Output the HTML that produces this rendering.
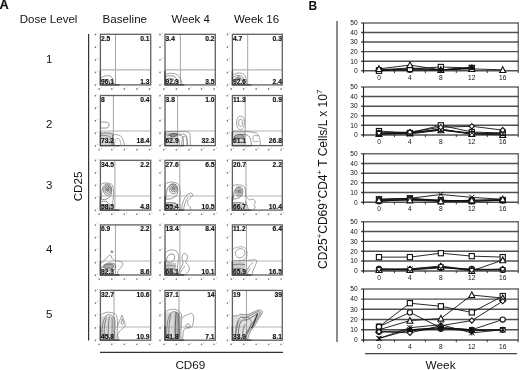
<!DOCTYPE html>
<html><head><meta charset="utf-8"><style>
html,body{margin:0;padding:0;background:#fff;width:520px;height:370px;overflow:hidden;}
svg{display:block;filter:blur(0.3px);}
</style></head><body>
<svg width="520" height="370" viewBox="0 0 520 370" font-family='"Liberation Sans", sans-serif'>
<rect x="0" y="0" width="520" height="370" fill="#fff"/>
<text x="-0.5" y="8.7" font-size="12.8" font-weight="bold" fill="#111" stroke="#111" stroke-width="0.15">A</text>
<text x="19.8" y="23.1" font-size="11.5" fill="#111">Dose Level</text>
<text x="102.6" y="23.3" font-size="11.6" fill="#111">Baseline</text>
<text x="171.4" y="23.3" font-size="11.4" fill="#111">Week 4</text>
<text x="233.9" y="23.3" font-size="11.5" fill="#111">Week 16</text>
<text x="49.1" y="62.6" font-size="11.5" fill="#111" text-anchor="middle">1</text>
<text x="49.1" y="128.4" font-size="11.5" fill="#111" text-anchor="middle">2</text>
<text x="49.1" y="189" font-size="11.5" fill="#111" text-anchor="middle">3</text>
<text x="49.1" y="252.6" font-size="11.5" fill="#111" text-anchor="middle">4</text>
<text x="49.1" y="318" font-size="11.5" fill="#111" text-anchor="middle">5</text>
<text transform="translate(82.2,201.3) rotate(-90)" font-size="11.6" fill="#111">CD25</text>
<line x1="88.6" y1="34" x2="88.6" y2="340.5" stroke="#333" stroke-width="1.2"/>
<line x1="100" y1="352.3" x2="283" y2="352.3" stroke="#333" stroke-width="1.2"/>
<text x="175.4" y="368.6" font-size="11.7" fill="#111">CD69</text>
<ellipse cx="95.40" cy="34.50" rx="0.8" ry="0.9" fill="#7c7c7c"/><circle cx="97.40" cy="33.10" r="0.55" fill="#b8b8b8"/>
<ellipse cx="99.20" cy="89.00" rx="0.8" ry="0.9" fill="#7c7c7c"/><circle cx="101.50" cy="87.70" r="0.55" fill="#b8b8b8"/>
<ellipse cx="95.40" cy="47.15" rx="0.8" ry="0.9" fill="#7c7c7c"/><circle cx="97.40" cy="45.75" r="0.55" fill="#b8b8b8"/>
<ellipse cx="111.78" cy="89.00" rx="0.8" ry="0.9" fill="#7c7c7c"/><circle cx="114.08" cy="87.70" r="0.55" fill="#b8b8b8"/>
<ellipse cx="95.40" cy="59.80" rx="0.8" ry="0.9" fill="#7c7c7c"/><circle cx="97.40" cy="58.40" r="0.55" fill="#b8b8b8"/>
<ellipse cx="124.35" cy="89.00" rx="0.8" ry="0.9" fill="#7c7c7c"/><circle cx="126.65" cy="87.70" r="0.55" fill="#b8b8b8"/>
<ellipse cx="95.40" cy="72.45" rx="0.8" ry="0.9" fill="#7c7c7c"/><circle cx="97.40" cy="71.05" r="0.55" fill="#b8b8b8"/>
<ellipse cx="136.93" cy="89.00" rx="0.8" ry="0.9" fill="#7c7c7c"/><circle cx="139.22" cy="87.70" r="0.55" fill="#b8b8b8"/>
<ellipse cx="95.40" cy="85.10" rx="0.8" ry="0.9" fill="#7c7c7c"/><circle cx="97.40" cy="83.70" r="0.55" fill="#b8b8b8"/>
<ellipse cx="149.50" cy="89.00" rx="0.8" ry="0.9" fill="#7c7c7c"/><circle cx="151.80" cy="87.70" r="0.55" fill="#b8b8b8"/>
<g transform="translate(100.4,34.3) scale(1.0060,1.0120)">
</g>
<line x1="115.5" y1="34.3" x2="115.5" y2="84.9" stroke="#8c8c8c" stroke-width="0.8"/>
<line x1="100.4" y1="69.9" x2="150.7" y2="69.9" stroke="#b4b4b4" stroke-width="1.1"/>
<g transform="translate(100.4,34.3) scale(1.0060,1.0120)">
<path d="M0,50 L0,44 C2,41 8,40 11,42 C13,44 13.5,48 13.5,50" fill="none" stroke="#7a7a7a" stroke-width="0.7"/>
<path d="M0.5,50 L0.5,46 C3,44 7,44 9,46 L9.5,50" fill="none" stroke="#626262" stroke-width="0.7"/>
</g>
<rect x="100.4" y="34.3" width="50.3" height="50.6" fill="none" stroke="#606060" stroke-width="1.3"/>
<path d="M100.4,70.73 L100.4,84.9 L119.51,84.9" fill="none" stroke="#444" stroke-width="1.3"/>
<g font-size="6.7" font-weight="bold" fill="#111" stroke="#111" stroke-width="0.15"><text x="101.0" y="40.75">2.5</text><text x="149.50" y="40.75" text-anchor="end">0.1</text><text x="101.0" y="83.50">96.1</text><text x="149.50" y="83.50" text-anchor="end">1.3</text></g>
<ellipse cx="160.00" cy="34.50" rx="0.8" ry="0.9" fill="#7c7c7c"/><circle cx="162.00" cy="33.10" r="0.55" fill="#b8b8b8"/>
<ellipse cx="163.80" cy="89.00" rx="0.8" ry="0.9" fill="#7c7c7c"/><circle cx="166.10" cy="87.70" r="0.55" fill="#b8b8b8"/>
<ellipse cx="160.00" cy="47.15" rx="0.8" ry="0.9" fill="#7c7c7c"/><circle cx="162.00" cy="45.75" r="0.55" fill="#b8b8b8"/>
<ellipse cx="176.38" cy="89.00" rx="0.8" ry="0.9" fill="#7c7c7c"/><circle cx="178.67" cy="87.70" r="0.55" fill="#b8b8b8"/>
<ellipse cx="160.00" cy="59.80" rx="0.8" ry="0.9" fill="#7c7c7c"/><circle cx="162.00" cy="58.40" r="0.55" fill="#b8b8b8"/>
<ellipse cx="188.95" cy="89.00" rx="0.8" ry="0.9" fill="#7c7c7c"/><circle cx="191.25" cy="87.70" r="0.55" fill="#b8b8b8"/>
<ellipse cx="160.00" cy="72.45" rx="0.8" ry="0.9" fill="#7c7c7c"/><circle cx="162.00" cy="71.05" r="0.55" fill="#b8b8b8"/>
<ellipse cx="201.53" cy="89.00" rx="0.8" ry="0.9" fill="#7c7c7c"/><circle cx="203.82" cy="87.70" r="0.55" fill="#b8b8b8"/>
<ellipse cx="160.00" cy="85.10" rx="0.8" ry="0.9" fill="#7c7c7c"/><circle cx="162.00" cy="83.70" r="0.55" fill="#b8b8b8"/>
<ellipse cx="214.10" cy="89.00" rx="0.8" ry="0.9" fill="#7c7c7c"/><circle cx="216.40" cy="87.70" r="0.55" fill="#b8b8b8"/>
<g transform="translate(165.0,34.3) scale(1.0060,1.0120)">
</g>
<line x1="180.4" y1="34.3" x2="180.4" y2="84.9" stroke="#8c8c8c" stroke-width="0.8"/>
<line x1="165.0" y1="69.9" x2="215.3" y2="69.9" stroke="#b4b4b4" stroke-width="1.1"/>
<g transform="translate(165.0,34.3) scale(1.0060,1.0120)">
<path d="M0,50 L0,40 C3,38 9,38 12,40 C15,42 17,46 17,50" fill="none" stroke="#7a7a7a" stroke-width="0.7"/>
<path d="M0.5,50 L0.5,42 C3,40.5 8,40.5 10,42 C12,44 13,47 13,50" fill="none" stroke="#626262" stroke-width="0.7"/>
<path d="M1,50 L1,45 C3,43 7,43 9,45 L10,50" fill="none" stroke="#626262" stroke-width="0.7"/>
</g>
<rect x="165.0" y="34.3" width="50.3" height="50.6" fill="none" stroke="#606060" stroke-width="1.3"/>
<path d="M165.0,70.73 L165.0,84.9 L184.11,84.9" fill="none" stroke="#444" stroke-width="1.3"/>
<g font-size="6.7" font-weight="bold" fill="#111" stroke="#111" stroke-width="0.15"><text x="165.6" y="40.75">3.4</text><text x="214.60" y="40.75" text-anchor="end">0.2</text><text x="165.6" y="83.50">92.9</text><text x="214.60" y="83.50" text-anchor="end">3.5</text></g>
<ellipse cx="227.40" cy="34.50" rx="0.8" ry="0.9" fill="#7c7c7c"/><circle cx="229.40" cy="33.10" r="0.55" fill="#b8b8b8"/>
<ellipse cx="231.20" cy="89.00" rx="0.8" ry="0.9" fill="#7c7c7c"/><circle cx="233.50" cy="87.70" r="0.55" fill="#b8b8b8"/>
<ellipse cx="227.40" cy="47.15" rx="0.8" ry="0.9" fill="#7c7c7c"/><circle cx="229.40" cy="45.75" r="0.55" fill="#b8b8b8"/>
<ellipse cx="243.68" cy="89.00" rx="0.8" ry="0.9" fill="#7c7c7c"/><circle cx="245.97" cy="87.70" r="0.55" fill="#b8b8b8"/>
<ellipse cx="227.40" cy="59.80" rx="0.8" ry="0.9" fill="#7c7c7c"/><circle cx="229.40" cy="58.40" r="0.55" fill="#b8b8b8"/>
<ellipse cx="256.15" cy="89.00" rx="0.8" ry="0.9" fill="#7c7c7c"/><circle cx="258.45" cy="87.70" r="0.55" fill="#b8b8b8"/>
<ellipse cx="227.40" cy="72.45" rx="0.8" ry="0.9" fill="#7c7c7c"/><circle cx="229.40" cy="71.05" r="0.55" fill="#b8b8b8"/>
<ellipse cx="268.62" cy="89.00" rx="0.8" ry="0.9" fill="#7c7c7c"/><circle cx="270.93" cy="87.70" r="0.55" fill="#b8b8b8"/>
<ellipse cx="227.40" cy="85.10" rx="0.8" ry="0.9" fill="#7c7c7c"/><circle cx="229.40" cy="83.70" r="0.55" fill="#b8b8b8"/>
<ellipse cx="281.10" cy="89.00" rx="0.8" ry="0.9" fill="#7c7c7c"/><circle cx="283.40" cy="87.70" r="0.55" fill="#b8b8b8"/>
<g transform="translate(232.4,34.3) scale(0.9980,1.0120)">
</g>
<line x1="247.7" y1="34.3" x2="247.7" y2="84.9" stroke="#8c8c8c" stroke-width="0.8"/>
<line x1="232.4" y1="69.9" x2="282.3" y2="69.9" stroke="#b4b4b4" stroke-width="1.1"/>
<g transform="translate(232.4,34.3) scale(0.9980,1.0120)">
<path d="M0,50 L0,41 C2,38 9,37 12,40 C14,43 14.5,47 14.5,50" fill="none" stroke="#7a7a7a" stroke-width="0.7"/>
<path d="M0.5,50 L0.5,43 C3,40 8,40 10,42 C12,45 12,48 12,50" fill="none" stroke="#626262" stroke-width="0.7"/>
<path d="M2,47 C2,44 4,42 6,42 C8,42 10,44 10,47" fill="none" stroke="#484848" stroke-width="0.7"/>
<path d="M4,45 C4,43.5 5,43 6,43 C7,43 8,43.5 8,45 Z" fill="#aaaaaa" stroke="#484848" stroke-width="0.6"/>
</g>
<rect x="232.4" y="34.3" width="49.9" height="50.6" fill="none" stroke="#606060" stroke-width="1.3"/>
<path d="M232.4,70.73 L232.4,84.9 L251.36,84.9" fill="none" stroke="#444" stroke-width="1.3"/>
<g font-size="6.7" font-weight="bold" fill="#111" stroke="#111" stroke-width="0.15"><text x="233.0" y="40.75">4.7</text><text x="281.90" y="40.75" text-anchor="end">0.3</text><text x="233.0" y="83.50">92.6</text><text x="281.90" y="83.50" text-anchor="end">2.4</text></g>
<ellipse cx="95.40" cy="95.70" rx="0.8" ry="0.9" fill="#7c7c7c"/><circle cx="97.40" cy="94.30" r="0.55" fill="#b8b8b8"/>
<ellipse cx="99.20" cy="149.70" rx="0.8" ry="0.9" fill="#7c7c7c"/><circle cx="101.50" cy="148.40" r="0.55" fill="#b8b8b8"/>
<ellipse cx="95.40" cy="108.23" rx="0.8" ry="0.9" fill="#7c7c7c"/><circle cx="97.40" cy="106.83" r="0.55" fill="#b8b8b8"/>
<ellipse cx="111.78" cy="149.70" rx="0.8" ry="0.9" fill="#7c7c7c"/><circle cx="114.08" cy="148.40" r="0.55" fill="#b8b8b8"/>
<ellipse cx="95.40" cy="120.75" rx="0.8" ry="0.9" fill="#7c7c7c"/><circle cx="97.40" cy="119.35" r="0.55" fill="#b8b8b8"/>
<ellipse cx="124.35" cy="149.70" rx="0.8" ry="0.9" fill="#7c7c7c"/><circle cx="126.65" cy="148.40" r="0.55" fill="#b8b8b8"/>
<ellipse cx="95.40" cy="133.27" rx="0.8" ry="0.9" fill="#7c7c7c"/><circle cx="97.40" cy="131.88" r="0.55" fill="#b8b8b8"/>
<ellipse cx="136.93" cy="149.70" rx="0.8" ry="0.9" fill="#7c7c7c"/><circle cx="139.22" cy="148.40" r="0.55" fill="#b8b8b8"/>
<ellipse cx="95.40" cy="145.80" rx="0.8" ry="0.9" fill="#7c7c7c"/><circle cx="97.40" cy="144.40" r="0.55" fill="#b8b8b8"/>
<ellipse cx="149.50" cy="149.70" rx="0.8" ry="0.9" fill="#7c7c7c"/><circle cx="151.80" cy="148.40" r="0.55" fill="#b8b8b8"/>
<g transform="translate(100.4,95.5) scale(1.0060,1.0020)">
<path d="M0,36.5 L13,36.5 L13,50 L0,50 Z" fill="#d4d4d4" stroke="none"/>
</g>
<line x1="113.4" y1="95.5" x2="113.4" y2="145.6" stroke="#8c8c8c" stroke-width="0.8"/>
<line x1="100.4" y1="131.0" x2="150.7" y2="131.0" stroke="#b4b4b4" stroke-width="1.1"/>
<g transform="translate(100.4,95.5) scale(1.0060,1.0020)">
<path d="M0,26.5 L5,26.5 C8,26.5 8.5,27.5 8.5,29.5 C8.5,31.5 8,32.5 5,32.5 L0,32.5" fill="none" stroke="#7a7a7a" stroke-width="0.8"/>
<path d="M0,38 C4,37 9,37 12,38.5 L13,50" fill="none" stroke="#626262" stroke-width="0.6"/>
<path d="M0,40 C4,39.5 8,40 10,42 L11,50" fill="none" stroke="#626262" stroke-width="0.6"/>
<path d="M12,50 L12,40 C15,38 20,39 22,43 C23,46 24,48 24,50" fill="none" stroke="#7a7a7a" stroke-width="0.7"/>
<path d="M14,50 C14,44 16,42 18,43 C20,45 20.5,48 20.5,50" fill="none" stroke="#7a7a7a" stroke-width="0.6"/>
</g>
<rect x="100.4" y="95.5" width="50.3" height="50.1" fill="none" stroke="#606060" stroke-width="1.3"/>
<path d="M100.4,131.57 L100.4,145.6 L119.51,145.6" fill="none" stroke="#444" stroke-width="1.3"/>
<g font-size="6.7" font-weight="bold" fill="#111" stroke="#111" stroke-width="0.15"><text x="101.0" y="101.95">8</text><text x="149.50" y="101.95" text-anchor="end">0.4</text><text x="101.0" y="143.00">73.2</text><text x="149.50" y="143.00" text-anchor="end">18.4</text></g>
<ellipse cx="160.00" cy="95.70" rx="0.8" ry="0.9" fill="#7c7c7c"/><circle cx="162.00" cy="94.30" r="0.55" fill="#b8b8b8"/>
<ellipse cx="163.80" cy="149.70" rx="0.8" ry="0.9" fill="#7c7c7c"/><circle cx="166.10" cy="148.40" r="0.55" fill="#b8b8b8"/>
<ellipse cx="160.00" cy="108.23" rx="0.8" ry="0.9" fill="#7c7c7c"/><circle cx="162.00" cy="106.83" r="0.55" fill="#b8b8b8"/>
<ellipse cx="176.38" cy="149.70" rx="0.8" ry="0.9" fill="#7c7c7c"/><circle cx="178.67" cy="148.40" r="0.55" fill="#b8b8b8"/>
<ellipse cx="160.00" cy="120.75" rx="0.8" ry="0.9" fill="#7c7c7c"/><circle cx="162.00" cy="119.35" r="0.55" fill="#b8b8b8"/>
<ellipse cx="188.95" cy="149.70" rx="0.8" ry="0.9" fill="#7c7c7c"/><circle cx="191.25" cy="148.40" r="0.55" fill="#b8b8b8"/>
<ellipse cx="160.00" cy="133.27" rx="0.8" ry="0.9" fill="#7c7c7c"/><circle cx="162.00" cy="131.88" r="0.55" fill="#b8b8b8"/>
<ellipse cx="201.53" cy="149.70" rx="0.8" ry="0.9" fill="#7c7c7c"/><circle cx="203.82" cy="148.40" r="0.55" fill="#b8b8b8"/>
<ellipse cx="160.00" cy="145.80" rx="0.8" ry="0.9" fill="#7c7c7c"/><circle cx="162.00" cy="144.40" r="0.55" fill="#b8b8b8"/>
<ellipse cx="214.10" cy="149.70" rx="0.8" ry="0.9" fill="#7c7c7c"/><circle cx="216.40" cy="148.40" r="0.55" fill="#b8b8b8"/>
<g transform="translate(165.0,95.5) scale(1.0060,1.0020)">
<path d="M0,36 L13,36 L13,50 L0,50 Z" fill="#dcdcdc" stroke="none"/>
</g>
<line x1="177.6" y1="95.5" x2="177.6" y2="145.6" stroke="#8c8c8c" stroke-width="0.8"/>
<line x1="165.0" y1="131.0" x2="215.3" y2="131.0" stroke="#b4b4b4" stroke-width="1.1"/>
<g transform="translate(165.0,95.5) scale(1.0060,1.0020)">
<path d="M0,36 L21,36 C23.5,36 25,37.5 25,40 L25.2,50" fill="none" stroke="#7a7a7a" stroke-width="0.7"/>
<path d="M0.5,38.5 L18,38.5 C20.5,38.5 21.5,40 21.7,42.5 L22,50" fill="none" stroke="#7a7a7a" stroke-width="0.7"/>
<path d="M2,40.5 C4,38.8 8,38.5 12,39 C15,39.5 17.5,40 18,42.5 C18.3,45 18.3,48 18.3,50" fill="none" stroke="#626262" stroke-width="0.7"/>
<path d="M4.5,39.5 C5.5,37.8 10,37.6 12,38.6 C13,39.6 11,40.8 8.5,40.9 C6,41 4,40.6 4.5,39.5 Z" fill="#8e8e8e" stroke="#484848" stroke-width="0.7"/>
<path d="M16.6,50 C16.6,44 17.5,40.5 19.5,40.5 C21.5,40.5 22.3,44 22.3,50" fill="none" stroke="#626262" stroke-width="0.6"/>
<path d="M1,43 C5,42 10,42 14,44 L14.5,50" fill="none" stroke="#626262" stroke-width="0.6"/>
</g>
<rect x="165.0" y="95.5" width="50.3" height="50.1" fill="none" stroke="#606060" stroke-width="1.3"/>
<path d="M165.0,131.57 L165.0,145.6 L184.11,145.6" fill="none" stroke="#444" stroke-width="1.3"/>
<g font-size="6.7" font-weight="bold" fill="#111" stroke="#111" stroke-width="0.15"><text x="165.6" y="101.95">3.8</text><text x="214.60" y="101.95" text-anchor="end">1.0</text><text x="165.6" y="143.00">62.9</text><text x="214.60" y="143.00" text-anchor="end">32.3</text></g>
<ellipse cx="227.40" cy="95.70" rx="0.8" ry="0.9" fill="#7c7c7c"/><circle cx="229.40" cy="94.30" r="0.55" fill="#b8b8b8"/>
<ellipse cx="231.20" cy="149.70" rx="0.8" ry="0.9" fill="#7c7c7c"/><circle cx="233.50" cy="148.40" r="0.55" fill="#b8b8b8"/>
<ellipse cx="227.40" cy="108.23" rx="0.8" ry="0.9" fill="#7c7c7c"/><circle cx="229.40" cy="106.83" r="0.55" fill="#b8b8b8"/>
<ellipse cx="243.68" cy="149.70" rx="0.8" ry="0.9" fill="#7c7c7c"/><circle cx="245.97" cy="148.40" r="0.55" fill="#b8b8b8"/>
<ellipse cx="227.40" cy="120.75" rx="0.8" ry="0.9" fill="#7c7c7c"/><circle cx="229.40" cy="119.35" r="0.55" fill="#b8b8b8"/>
<ellipse cx="256.15" cy="149.70" rx="0.8" ry="0.9" fill="#7c7c7c"/><circle cx="258.45" cy="148.40" r="0.55" fill="#b8b8b8"/>
<ellipse cx="227.40" cy="133.27" rx="0.8" ry="0.9" fill="#7c7c7c"/><circle cx="229.40" cy="131.88" r="0.55" fill="#b8b8b8"/>
<ellipse cx="268.62" cy="149.70" rx="0.8" ry="0.9" fill="#7c7c7c"/><circle cx="270.93" cy="148.40" r="0.55" fill="#b8b8b8"/>
<ellipse cx="227.40" cy="145.80" rx="0.8" ry="0.9" fill="#7c7c7c"/><circle cx="229.40" cy="144.40" r="0.55" fill="#b8b8b8"/>
<ellipse cx="281.10" cy="149.70" rx="0.8" ry="0.9" fill="#7c7c7c"/><circle cx="283.40" cy="148.40" r="0.55" fill="#b8b8b8"/>
<g transform="translate(232.4,95.5) scale(0.9980,1.0020)">
<path d="M0,35.5 L13,35.5 L13,50 L0,50 Z" fill="#dadada" stroke="none"/>
</g>
<line x1="245.2" y1="95.5" x2="245.2" y2="145.6" stroke="#8c8c8c" stroke-width="0.8"/>
<line x1="232.4" y1="131.0" x2="282.3" y2="131.0" stroke="#b4b4b4" stroke-width="1.1"/>
<g transform="translate(232.4,95.5) scale(0.9980,1.0020)">
<path d="M4.2,27.5 C4.2,23 6,20.5 8.2,20.5 C10.5,20.5 12,23 12,27 C12,31 10.5,34 8.2,34 C6,34 4.2,31.5 4.2,27.5 Z" fill="none" stroke="#7a7a7a" stroke-width="0.7"/>
<path d="M6.2,27.5 C6.2,25 7,23.6 8.2,23.6 C9.4,23.6 10.1,25 10.1,27.3 C10.1,29.6 9.3,31 8.2,31 C7,31 6.2,29.8 6.2,27.5 Z" fill="none" stroke="#626262" stroke-width="0.6"/>
<path d="M0,50 L0,36 C8,35 18,36 24,37.5 C27,39 28,45 28,50" fill="none" stroke="#7a7a7a" stroke-width="0.7"/>
<path d="M0,45 C3,39 10,38 15,39.5 C18,41 19,46 19,50" fill="none" stroke="#626262" stroke-width="0.7"/>
<path d="M2,41 C4,38.5 9,38.5 11,40 C12.5,41.5 10,43 7,43 C4,43 2,42.5 2,41 Z" fill="#a4a4a4" stroke="#484848" stroke-width="0.7"/>
<path d="M26,40 L22,40 C20,40 20,46 22,46 L26,46" fill="none" stroke="#7a7a7a" stroke-width="0.6"/>
</g>
<rect x="232.4" y="95.5" width="49.9" height="50.1" fill="none" stroke="#606060" stroke-width="1.3"/>
<path d="M232.4,131.57 L232.4,145.6 L251.36,145.6" fill="none" stroke="#444" stroke-width="1.3"/>
<g font-size="6.7" font-weight="bold" fill="#111" stroke="#111" stroke-width="0.15"><text x="233.0" y="101.95">11.3</text><text x="281.90" y="101.95" text-anchor="end">0.9</text><text x="233.0" y="143.00">61.1</text><text x="281.90" y="143.00" text-anchor="end">26.8</text></g>
<ellipse cx="95.40" cy="160.50" rx="0.8" ry="0.9" fill="#7c7c7c"/><circle cx="97.40" cy="159.10" r="0.55" fill="#b8b8b8"/>
<ellipse cx="99.20" cy="214.20" rx="0.8" ry="0.9" fill="#7c7c7c"/><circle cx="101.50" cy="212.90" r="0.55" fill="#b8b8b8"/>
<ellipse cx="95.40" cy="172.95" rx="0.8" ry="0.9" fill="#7c7c7c"/><circle cx="97.40" cy="171.55" r="0.55" fill="#b8b8b8"/>
<ellipse cx="111.78" cy="214.20" rx="0.8" ry="0.9" fill="#7c7c7c"/><circle cx="114.08" cy="212.90" r="0.55" fill="#b8b8b8"/>
<ellipse cx="95.40" cy="185.40" rx="0.8" ry="0.9" fill="#7c7c7c"/><circle cx="97.40" cy="184.00" r="0.55" fill="#b8b8b8"/>
<ellipse cx="124.35" cy="214.20" rx="0.8" ry="0.9" fill="#7c7c7c"/><circle cx="126.65" cy="212.90" r="0.55" fill="#b8b8b8"/>
<ellipse cx="95.40" cy="197.85" rx="0.8" ry="0.9" fill="#7c7c7c"/><circle cx="97.40" cy="196.45" r="0.55" fill="#b8b8b8"/>
<ellipse cx="136.93" cy="214.20" rx="0.8" ry="0.9" fill="#7c7c7c"/><circle cx="139.22" cy="212.90" r="0.55" fill="#b8b8b8"/>
<ellipse cx="95.40" cy="210.30" rx="0.8" ry="0.9" fill="#7c7c7c"/><circle cx="97.40" cy="208.90" r="0.55" fill="#b8b8b8"/>
<ellipse cx="149.50" cy="214.20" rx="0.8" ry="0.9" fill="#7c7c7c"/><circle cx="151.80" cy="212.90" r="0.55" fill="#b8b8b8"/>
<g transform="translate(100.4,160.3) scale(1.0060,0.9960)">
<path d="M0,44 L9,44 L9,50 L0,50 Z" fill="#d2d2d2" stroke="none"/>
</g>
<line x1="114.9" y1="160.3" x2="114.9" y2="210.10000000000002" stroke="#8c8c8c" stroke-width="0.8"/>
<line x1="100.4" y1="196.0" x2="150.7" y2="196.0" stroke="#b4b4b4" stroke-width="1.1"/>
<g transform="translate(100.4,160.3) scale(1.0060,0.9960)">
<path d="M0,50 L0,25 C2,22 10,22 12,25 C13.5,28 13,35 12.5,40 C12,45 12.5,48 12.5,50" fill="none" stroke="#7a7a7a" stroke-width="0.7"/>
<path d="M1,39 C1,29 2.5,23.8 7,23.8 C11.2,23.8 11.8,30 10.8,34 C9.8,38 5,40.5 1,39 Z" fill="none" stroke="#626262" stroke-width="0.7"/>
<path d="M3.10,30.00 a3.9,5.2 0 1,0 7.80,0 a3.9,5.2 0 1,0 -7.80,0 Z" fill="none" stroke="#626262" stroke-width="0.7"/>
<path d="M4.50,29.60 a2.7,3.7 0 1,0 5.40,0 a2.7,3.7 0 1,0 -5.40,0 Z" fill="none" stroke="#484848" stroke-width="0.7"/>
<path d="M5.90,29.30 a1.4,2.1 0 1,0 2.80,0 a1.4,2.1 0 1,0 -2.80,0 Z" fill="#9a9a9a" stroke="#484848" stroke-width="0.6"/>
<path d="M0,50 L0,42 C3,40 8,41 9,45 L9.5,50" fill="none" stroke="#626262" stroke-width="0.7"/>
<path d="M1,50 C1,46 4,44 7,46 L7.5,50" fill="none" stroke="#626262" stroke-width="0.6"/>
</g>
<rect x="100.4" y="160.3" width="50.3" height="49.8" fill="none" stroke="#606060" stroke-width="1.3"/>
<path d="M100.4,196.16 L100.4,210.10000000000002 L119.51,210.10000000000002" fill="none" stroke="#444" stroke-width="1.3"/>
<g font-size="6.7" font-weight="bold" fill="#111" stroke="#111" stroke-width="0.15"><text x="101.0" y="166.75">34.5</text><text x="149.50" y="166.75" text-anchor="end">2.2</text><text x="101.0" y="208.70">58.5</text><text x="149.50" y="208.70" text-anchor="end">4.8</text></g>
<ellipse cx="160.00" cy="160.50" rx="0.8" ry="0.9" fill="#7c7c7c"/><circle cx="162.00" cy="159.10" r="0.55" fill="#b8b8b8"/>
<ellipse cx="163.80" cy="214.20" rx="0.8" ry="0.9" fill="#7c7c7c"/><circle cx="166.10" cy="212.90" r="0.55" fill="#b8b8b8"/>
<ellipse cx="160.00" cy="172.95" rx="0.8" ry="0.9" fill="#7c7c7c"/><circle cx="162.00" cy="171.55" r="0.55" fill="#b8b8b8"/>
<ellipse cx="176.38" cy="214.20" rx="0.8" ry="0.9" fill="#7c7c7c"/><circle cx="178.67" cy="212.90" r="0.55" fill="#b8b8b8"/>
<ellipse cx="160.00" cy="185.40" rx="0.8" ry="0.9" fill="#7c7c7c"/><circle cx="162.00" cy="184.00" r="0.55" fill="#b8b8b8"/>
<ellipse cx="188.95" cy="214.20" rx="0.8" ry="0.9" fill="#7c7c7c"/><circle cx="191.25" cy="212.90" r="0.55" fill="#b8b8b8"/>
<ellipse cx="160.00" cy="197.85" rx="0.8" ry="0.9" fill="#7c7c7c"/><circle cx="162.00" cy="196.45" r="0.55" fill="#b8b8b8"/>
<ellipse cx="201.53" cy="214.20" rx="0.8" ry="0.9" fill="#7c7c7c"/><circle cx="203.82" cy="212.90" r="0.55" fill="#b8b8b8"/>
<ellipse cx="160.00" cy="210.30" rx="0.8" ry="0.9" fill="#7c7c7c"/><circle cx="162.00" cy="208.90" r="0.55" fill="#b8b8b8"/>
<ellipse cx="214.10" cy="214.20" rx="0.8" ry="0.9" fill="#7c7c7c"/><circle cx="216.40" cy="212.90" r="0.55" fill="#b8b8b8"/>
<g transform="translate(165.0,160.3) scale(1.0060,0.9960)">
<path d="M0,42 L11,42 L11,50 L0,50 Z" fill="#cfcfcf" stroke="none"/>
</g>
<line x1="179.8" y1="160.3" x2="179.8" y2="210.10000000000002" stroke="#8c8c8c" stroke-width="0.8"/>
<line x1="165.0" y1="196.0" x2="215.3" y2="196.0" stroke="#b4b4b4" stroke-width="1.1"/>
<g transform="translate(165.0,160.3) scale(1.0060,0.9960)">
<path d="M0,50 L0,24 C3,21 12,21 14,25 C15.5,29 15,35 14.8,40 C14.6,44 15,48 15.2,50" fill="none" stroke="#7a7a7a" stroke-width="0.7"/>
<path d="M1,39 C1,29 3,24 8,23.6 C12.8,23.8 13.2,29 12.3,33 C11.3,37 6,39.5 1,39 Z" fill="none" stroke="#626262" stroke-width="0.7"/>
<path d="M4.30,28.80 a4.0,4.8 0 1,0 8.00,0 a4.0,4.8 0 1,0 -8.00,0 Z" fill="none" stroke="#626262" stroke-width="0.7"/>
<path d="M5.80,28.40 a2.7,3.3 0 1,0 5.40,0 a2.7,3.3 0 1,0 -5.40,0 Z" fill="none" stroke="#484848" stroke-width="0.7"/>
<path d="M7.20,28.20 a1.4,1.8 0 1,0 2.80,0 a1.4,1.8 0 1,0 -2.80,0 Z" fill="#9a9a9a" stroke="#484848" stroke-width="0.6"/>
<path d="M0,43 C3,42 8,42 12,44" fill="none" stroke="#626262" stroke-width="0.6"/>
<path d="M0,46 C3,45 8,45 11,47" fill="none" stroke="#484848" stroke-width="0.6"/>
<path d="M16.4,49.5 C17,44 18.5,38 22,34.5 C24,33 27,32.3 27.5,34 C27.8,36 25,38 23.5,39.5 C21.5,41.5 22,45 25.5,47.2 C26,48 25.5,49 24.5,49.5" fill="none" stroke="#7a7a7a" stroke-width="0.7"/>
<path d="M18.5,49.5 C19,45 20.5,40 23,37" fill="none" stroke="#626262" stroke-width="0.6"/>
</g>
<rect x="165.0" y="160.3" width="50.3" height="49.8" fill="none" stroke="#606060" stroke-width="1.3"/>
<path d="M165.0,196.16 L165.0,210.10000000000002 L184.11,210.10000000000002" fill="none" stroke="#444" stroke-width="1.3"/>
<g font-size="6.7" font-weight="bold" fill="#111" stroke="#111" stroke-width="0.15"><text x="165.6" y="166.75">27.6</text><text x="214.60" y="166.75" text-anchor="end">6.5</text><text x="165.6" y="208.70">55.4</text><text x="214.60" y="208.70" text-anchor="end">10.5</text></g>
<ellipse cx="227.40" cy="160.50" rx="0.8" ry="0.9" fill="#7c7c7c"/><circle cx="229.40" cy="159.10" r="0.55" fill="#b8b8b8"/>
<ellipse cx="231.20" cy="214.20" rx="0.8" ry="0.9" fill="#7c7c7c"/><circle cx="233.50" cy="212.90" r="0.55" fill="#b8b8b8"/>
<ellipse cx="227.40" cy="172.95" rx="0.8" ry="0.9" fill="#7c7c7c"/><circle cx="229.40" cy="171.55" r="0.55" fill="#b8b8b8"/>
<ellipse cx="243.68" cy="214.20" rx="0.8" ry="0.9" fill="#7c7c7c"/><circle cx="245.97" cy="212.90" r="0.55" fill="#b8b8b8"/>
<ellipse cx="227.40" cy="185.40" rx="0.8" ry="0.9" fill="#7c7c7c"/><circle cx="229.40" cy="184.00" r="0.55" fill="#b8b8b8"/>
<ellipse cx="256.15" cy="214.20" rx="0.8" ry="0.9" fill="#7c7c7c"/><circle cx="258.45" cy="212.90" r="0.55" fill="#b8b8b8"/>
<ellipse cx="227.40" cy="197.85" rx="0.8" ry="0.9" fill="#7c7c7c"/><circle cx="229.40" cy="196.45" r="0.55" fill="#b8b8b8"/>
<ellipse cx="268.62" cy="214.20" rx="0.8" ry="0.9" fill="#7c7c7c"/><circle cx="270.93" cy="212.90" r="0.55" fill="#b8b8b8"/>
<ellipse cx="227.40" cy="210.30" rx="0.8" ry="0.9" fill="#7c7c7c"/><circle cx="229.40" cy="208.90" r="0.55" fill="#b8b8b8"/>
<ellipse cx="281.10" cy="214.20" rx="0.8" ry="0.9" fill="#7c7c7c"/><circle cx="283.40" cy="212.90" r="0.55" fill="#b8b8b8"/>
<g transform="translate(232.4,160.3) scale(0.9980,0.9960)">
<path d="M0,42 L12,42 L12,50 L0,50 Z" fill="#d0d0d0" stroke="none"/>
</g>
<line x1="246.0" y1="160.3" x2="246.0" y2="210.10000000000002" stroke="#8c8c8c" stroke-width="0.8"/>
<line x1="232.4" y1="196.0" x2="282.3" y2="196.0" stroke="#b4b4b4" stroke-width="1.1"/>
<g transform="translate(232.4,160.3) scale(0.9980,0.9960)">
<path d="M0,50 L0,26 C2,24.5 5,24.3 7,24.6 C10,25 12.5,26 12.8,28.7 C13.2,31 13.2,34 13.2,36 C14.5,37.5 16,39 17,39.7 C18.5,39.5 20,38.8 21,39.3 C22,40 23,41 23.3,42 C23,43 22,44 21.5,44.3 C22,45.5 23,46.5 22.9,47.5 C22.5,48.5 21.5,49 20.6,49.5" fill="none" stroke="#7a7a7a" stroke-width="0.7"/>
<path d="M1,39 C1,31 3,26.5 7,26.5 C10.5,26.5 11,31 10,34 C9,37 5,39 1,39 Z" fill="none" stroke="#626262" stroke-width="0.7"/>
<path d="M2.80,31.50 a3.4,4.2 0 1,0 6.80,0 a3.4,4.2 0 1,0 -6.80,0 Z" fill="none" stroke="#626262" stroke-width="0.7"/>
<path d="M4.10,31.30 a2.2,2.8 0 1,0 4.40,0 a2.2,2.8 0 1,0 -4.40,0 Z" fill="none" stroke="#484848" stroke-width="0.7"/>
<path d="M5.30,31.20 a1.1,1.5 0 1,0 2.20,0 a1.1,1.5 0 1,0 -2.20,0 Z" fill="#9a9a9a" stroke="#484848" stroke-width="0.6"/>
<path d="M13,41 C14.5,44 15.5,47 16,49.5" fill="none" stroke="#626262" stroke-width="0.6"/>
<path d="M0,43 C4,42 9,42 12,44" fill="none" stroke="#626262" stroke-width="0.6"/>
</g>
<rect x="232.4" y="160.3" width="49.9" height="49.8" fill="none" stroke="#606060" stroke-width="1.3"/>
<path d="M232.4,196.16 L232.4,210.10000000000002 L251.36,210.10000000000002" fill="none" stroke="#444" stroke-width="1.3"/>
<g font-size="6.7" font-weight="bold" fill="#111" stroke="#111" stroke-width="0.15"><text x="233.0" y="166.75">20.7</text><text x="281.90" y="166.75" text-anchor="end">2.2</text><text x="233.0" y="208.70">66.7</text><text x="281.90" y="208.70" text-anchor="end">10.4</text></g>
<ellipse cx="95.40" cy="225.10" rx="0.8" ry="0.9" fill="#7c7c7c"/><circle cx="97.40" cy="223.70" r="0.55" fill="#b8b8b8"/>
<ellipse cx="99.20" cy="279.10" rx="0.8" ry="0.9" fill="#7c7c7c"/><circle cx="101.50" cy="277.80" r="0.55" fill="#b8b8b8"/>
<ellipse cx="95.40" cy="237.62" rx="0.8" ry="0.9" fill="#7c7c7c"/><circle cx="97.40" cy="236.23" r="0.55" fill="#b8b8b8"/>
<ellipse cx="111.78" cy="279.10" rx="0.8" ry="0.9" fill="#7c7c7c"/><circle cx="114.08" cy="277.80" r="0.55" fill="#b8b8b8"/>
<ellipse cx="95.40" cy="250.15" rx="0.8" ry="0.9" fill="#7c7c7c"/><circle cx="97.40" cy="248.75" r="0.55" fill="#b8b8b8"/>
<ellipse cx="124.35" cy="279.10" rx="0.8" ry="0.9" fill="#7c7c7c"/><circle cx="126.65" cy="277.80" r="0.55" fill="#b8b8b8"/>
<ellipse cx="95.40" cy="262.68" rx="0.8" ry="0.9" fill="#7c7c7c"/><circle cx="97.40" cy="261.28" r="0.55" fill="#b8b8b8"/>
<ellipse cx="136.93" cy="279.10" rx="0.8" ry="0.9" fill="#7c7c7c"/><circle cx="139.22" cy="277.80" r="0.55" fill="#b8b8b8"/>
<ellipse cx="95.40" cy="275.20" rx="0.8" ry="0.9" fill="#7c7c7c"/><circle cx="97.40" cy="273.80" r="0.55" fill="#b8b8b8"/>
<ellipse cx="149.50" cy="279.10" rx="0.8" ry="0.9" fill="#7c7c7c"/><circle cx="151.80" cy="277.80" r="0.55" fill="#b8b8b8"/>
<g transform="translate(100.4,224.9) scale(1.0060,1.0020)">
</g>
<line x1="115.4" y1="224.9" x2="115.4" y2="275.0" stroke="#8c8c8c" stroke-width="0.8"/>
<line x1="100.4" y1="261.0" x2="150.7" y2="261.0" stroke="#b4b4b4" stroke-width="1.1"/>
<g transform="translate(100.4,224.9) scale(1.0060,1.0020)">
<path d="M0,50 L0,38.5 C3,37 6,33 8.5,30.5 C9.5,29.5 10.5,30 11,32 C11.5,34 13,35.5 16,36 C19,36.2 21.5,36.5 22.2,38 C22.8,40 21,42.5 19,44 C17.5,45.5 16.8,47 17.3,50" fill="none" stroke="#7a7a7a" stroke-width="0.7"/>
<path d="M0.5,46 C0.5,41 5,38 9.5,38 C14,38 16,40 15,43 C14,46 8,46.5 0.5,46 Z" fill="none" stroke="#626262" stroke-width="0.7"/>
<path d="M3,42.5 C3,40 6.5,39 9.5,39 C13,39 14,40.5 13,42.5 C12,44 6,44.5 3,42.5 Z" fill="#a8a8a8" stroke="#484848" stroke-width="0.7"/>
<path d="M11.4,26.8 m-0.9,0 a0.9,0.9 0 1,0 1.8,0 a0.9,0.9 0 1,0 -1.8,0" fill="#bbbbbb" stroke="#626262" stroke-width="0.7"/>
</g>
<rect x="100.4" y="224.9" width="50.3" height="50.1" fill="none" stroke="#606060" stroke-width="1.3"/>
<path d="M100.4,260.97 L100.4,275.0 L119.51,275.0" fill="none" stroke="#444" stroke-width="1.3"/>
<g font-size="6.7" font-weight="bold" fill="#111" stroke="#111" stroke-width="0.15"><text x="101.0" y="231.35">6.9</text><text x="149.50" y="231.35" text-anchor="end">2.2</text><text x="101.0" y="273.60">82.3</text><text x="149.50" y="273.60" text-anchor="end">8.6</text></g>
<ellipse cx="160.00" cy="225.10" rx="0.8" ry="0.9" fill="#7c7c7c"/><circle cx="162.00" cy="223.70" r="0.55" fill="#b8b8b8"/>
<ellipse cx="163.80" cy="279.10" rx="0.8" ry="0.9" fill="#7c7c7c"/><circle cx="166.10" cy="277.80" r="0.55" fill="#b8b8b8"/>
<ellipse cx="160.00" cy="237.62" rx="0.8" ry="0.9" fill="#7c7c7c"/><circle cx="162.00" cy="236.23" r="0.55" fill="#b8b8b8"/>
<ellipse cx="176.38" cy="279.10" rx="0.8" ry="0.9" fill="#7c7c7c"/><circle cx="178.67" cy="277.80" r="0.55" fill="#b8b8b8"/>
<ellipse cx="160.00" cy="250.15" rx="0.8" ry="0.9" fill="#7c7c7c"/><circle cx="162.00" cy="248.75" r="0.55" fill="#b8b8b8"/>
<ellipse cx="188.95" cy="279.10" rx="0.8" ry="0.9" fill="#7c7c7c"/><circle cx="191.25" cy="277.80" r="0.55" fill="#b8b8b8"/>
<ellipse cx="160.00" cy="262.68" rx="0.8" ry="0.9" fill="#7c7c7c"/><circle cx="162.00" cy="261.28" r="0.55" fill="#b8b8b8"/>
<ellipse cx="201.53" cy="279.10" rx="0.8" ry="0.9" fill="#7c7c7c"/><circle cx="203.82" cy="277.80" r="0.55" fill="#b8b8b8"/>
<ellipse cx="160.00" cy="275.20" rx="0.8" ry="0.9" fill="#7c7c7c"/><circle cx="162.00" cy="273.80" r="0.55" fill="#b8b8b8"/>
<ellipse cx="214.10" cy="279.10" rx="0.8" ry="0.9" fill="#7c7c7c"/><circle cx="216.40" cy="277.80" r="0.55" fill="#b8b8b8"/>
<g transform="translate(165.0,224.9) scale(1.0060,1.0020)">
<path d="M0,38 L11,38 L11,50 L0,50 Z" fill="#cacaca" stroke="none"/>
</g>
<line x1="179.9" y1="224.9" x2="179.9" y2="275.0" stroke="#8c8c8c" stroke-width="0.8"/>
<line x1="165.0" y1="261.0" x2="215.3" y2="261.0" stroke="#b4b4b4" stroke-width="1.1"/>
<g transform="translate(165.0,224.9) scale(1.0060,1.0020)">
<path d="M0,50 L0,28 C2,25 8,24 11,26 C14,28 14,33 13,37 C12,40 13,45 12,50" fill="none" stroke="#7a7a7a" stroke-width="0.7"/>
<path d="M1.5,37 C1.5,31 4,29 7,29 C10,29 10,33 9,35 C8,37 5,38 1.5,37 Z" fill="none" stroke="#626262" stroke-width="0.7"/>
<path d="M0,41 C3,40 8,40 11,41.5" fill="none" stroke="#626262" stroke-width="0.6"/>
<path d="M0,44 C3,43 8,43 11,45" fill="none" stroke="#484848" stroke-width="0.6"/>
<path d="M12,50 C14,45 17,42 18,38 C17,35 16.5,32 17.5,30 C18.5,28 21,28 22,30 C23,32 22,35 20,37 C23,40 25,42 24,45 C23,48 20,50 18,50" fill="none" stroke="#7a7a7a" stroke-width="0.7"/>
<path d="M14,50 C16,46 18,43 20,41" fill="none" stroke="#626262" stroke-width="0.6"/>
</g>
<rect x="165.0" y="224.9" width="50.3" height="50.1" fill="none" stroke="#606060" stroke-width="1.3"/>
<path d="M165.0,260.97 L165.0,275.0 L184.11,275.0" fill="none" stroke="#444" stroke-width="1.3"/>
<g font-size="6.7" font-weight="bold" fill="#111" stroke="#111" stroke-width="0.15"><text x="165.6" y="231.35">13.4</text><text x="214.60" y="231.35" text-anchor="end">8.4</text><text x="165.6" y="273.60">68.1</text><text x="214.60" y="273.60" text-anchor="end">10.1</text></g>
<ellipse cx="227.40" cy="225.10" rx="0.8" ry="0.9" fill="#7c7c7c"/><circle cx="229.40" cy="223.70" r="0.55" fill="#b8b8b8"/>
<ellipse cx="231.20" cy="279.10" rx="0.8" ry="0.9" fill="#7c7c7c"/><circle cx="233.50" cy="277.80" r="0.55" fill="#b8b8b8"/>
<ellipse cx="227.40" cy="237.62" rx="0.8" ry="0.9" fill="#7c7c7c"/><circle cx="229.40" cy="236.23" r="0.55" fill="#b8b8b8"/>
<ellipse cx="243.68" cy="279.10" rx="0.8" ry="0.9" fill="#7c7c7c"/><circle cx="245.97" cy="277.80" r="0.55" fill="#b8b8b8"/>
<ellipse cx="227.40" cy="250.15" rx="0.8" ry="0.9" fill="#7c7c7c"/><circle cx="229.40" cy="248.75" r="0.55" fill="#b8b8b8"/>
<ellipse cx="256.15" cy="279.10" rx="0.8" ry="0.9" fill="#7c7c7c"/><circle cx="258.45" cy="277.80" r="0.55" fill="#b8b8b8"/>
<ellipse cx="227.40" cy="262.68" rx="0.8" ry="0.9" fill="#7c7c7c"/><circle cx="229.40" cy="261.28" r="0.55" fill="#b8b8b8"/>
<ellipse cx="268.62" cy="279.10" rx="0.8" ry="0.9" fill="#7c7c7c"/><circle cx="270.93" cy="277.80" r="0.55" fill="#b8b8b8"/>
<ellipse cx="227.40" cy="275.20" rx="0.8" ry="0.9" fill="#7c7c7c"/><circle cx="229.40" cy="273.80" r="0.55" fill="#b8b8b8"/>
<ellipse cx="281.10" cy="279.10" rx="0.8" ry="0.9" fill="#7c7c7c"/><circle cx="283.40" cy="277.80" r="0.55" fill="#b8b8b8"/>
<g transform="translate(232.4,224.9) scale(0.9980,1.0020)">
<path d="M0,37 L13,37 L13,50 L0,50 Z" fill="#cccccc" stroke="none"/>
</g>
<line x1="246.5" y1="224.9" x2="246.5" y2="275.0" stroke="#8c8c8c" stroke-width="0.8"/>
<line x1="232.4" y1="261.0" x2="282.3" y2="261.0" stroke="#b4b4b4" stroke-width="1.1"/>
<g transform="translate(232.4,224.9) scale(0.9980,1.0020)">
<path d="M3,28 C3,25 7,23 10,24 C13,25 13,28 12,30 C11,32 9,33 7,33 C5,33 3,31 3,28 Z" fill="none" stroke="#7a7a7a" stroke-width="0.7"/>
<path d="M0,25 C2,22 9,21 12,22.5 C15,24 15.5,30 13.5,33 C12,35 9,36 6,36" fill="none" stroke="#7a7a7a" stroke-width="0.6"/>
<path d="M0,50 L0,36 C6,35 14,36 20,35 C23,34 25,35 24,38 C23,41 21,44 20,47 L20,50" fill="none" stroke="#7a7a7a" stroke-width="0.7"/>
<path d="M12,50 L17,41 L21,37" fill="none" stroke="#626262" stroke-width="0.6"/>
<path d="M14,50 L18,43" fill="none" stroke="#626262" stroke-width="0.6"/>
<path d="M0,40 C4,39 10,39 13,40" fill="none" stroke="#484848" stroke-width="0.6"/>
<path d="M0,44 C4,43 9,43 12,45" fill="none" stroke="#484848" stroke-width="0.6"/>
</g>
<rect x="232.4" y="224.9" width="49.9" height="50.1" fill="none" stroke="#606060" stroke-width="1.3"/>
<path d="M232.4,260.97 L232.4,275.0 L251.36,275.0" fill="none" stroke="#444" stroke-width="1.3"/>
<g font-size="6.7" font-weight="bold" fill="#111" stroke="#111" stroke-width="0.15"><text x="233.0" y="231.35">11.2</text><text x="281.90" y="231.35" text-anchor="end">6.4</text><text x="233.0" y="273.60">65.9</text><text x="281.90" y="273.60" text-anchor="end">16.5</text></g>
<ellipse cx="95.40" cy="290.60" rx="0.8" ry="0.9" fill="#7c7c7c"/><circle cx="97.40" cy="289.20" r="0.55" fill="#b8b8b8"/>
<ellipse cx="99.20" cy="344.30" rx="0.8" ry="0.9" fill="#7c7c7c"/><circle cx="101.50" cy="343.00" r="0.55" fill="#b8b8b8"/>
<ellipse cx="95.40" cy="303.05" rx="0.8" ry="0.9" fill="#7c7c7c"/><circle cx="97.40" cy="301.65" r="0.55" fill="#b8b8b8"/>
<ellipse cx="111.78" cy="344.30" rx="0.8" ry="0.9" fill="#7c7c7c"/><circle cx="114.08" cy="343.00" r="0.55" fill="#b8b8b8"/>
<ellipse cx="95.40" cy="315.50" rx="0.8" ry="0.9" fill="#7c7c7c"/><circle cx="97.40" cy="314.10" r="0.55" fill="#b8b8b8"/>
<ellipse cx="124.35" cy="344.30" rx="0.8" ry="0.9" fill="#7c7c7c"/><circle cx="126.65" cy="343.00" r="0.55" fill="#b8b8b8"/>
<ellipse cx="95.40" cy="327.95" rx="0.8" ry="0.9" fill="#7c7c7c"/><circle cx="97.40" cy="326.55" r="0.55" fill="#b8b8b8"/>
<ellipse cx="136.93" cy="344.30" rx="0.8" ry="0.9" fill="#7c7c7c"/><circle cx="139.22" cy="343.00" r="0.55" fill="#b8b8b8"/>
<ellipse cx="95.40" cy="340.40" rx="0.8" ry="0.9" fill="#7c7c7c"/><circle cx="97.40" cy="339.00" r="0.55" fill="#b8b8b8"/>
<ellipse cx="149.50" cy="344.30" rx="0.8" ry="0.9" fill="#7c7c7c"/><circle cx="151.80" cy="343.00" r="0.55" fill="#b8b8b8"/>
<g transform="translate(100.4,290.4) scale(1.0060,0.9960)">
<path d="M0,26 L14,26 L16,50 L0,50 Z" fill="#d8d8d8" stroke="none"/>
</g>
<line x1="114.0" y1="290.4" x2="114.0" y2="340.2" stroke="#8c8c8c" stroke-width="0.8"/>
<line x1="100.4" y1="327.0" x2="150.7" y2="327.0" stroke="#b4b4b4" stroke-width="1.1"/>
<g transform="translate(100.4,290.4) scale(1.0060,0.9960)">
<path d="M0,50 L0,25.3 C2,23 5,21.9 8.3,21.9 C12,22 15,23.5 16.1,25.3 C17,29 17,32 17,35 C16.8,40 16.5,45 16.5,50" fill="none" stroke="#7a7a7a" stroke-width="0.7"/>
<path d="M1.5,48 C1.5,36 2.5,27 7,24.5 C11,24 14,26 14.5,30 C15,36 14,43 13.5,48" fill="none" stroke="#626262" stroke-width="0.7"/>
<path d="M4,48 C3.5,40 4,32 6,27.5" fill="none" stroke="#484848" stroke-width="0.6"/>
<path d="M8,48 C7.5,40 8,32 9,26" fill="none" stroke="#484848" stroke-width="0.6"/>
<path d="M11.5,48 C11.5,40 12,32 11.5,27" fill="none" stroke="#484848" stroke-width="0.6"/>
<path d="M17,36 C18.5,32 20,28 21.4,24.8 C22.5,28 23.8,31 24.5,33 C25,35.5 24,37.5 21,39 C19,41 17,43.5 17,45 C17,47 18,48 18.5,50" fill="none" stroke="#7a7a7a" stroke-width="0.7"/>
<path d="M20.5,33 C21,31 21.5,29.5 21.7,28.5 C22.3,30.5 23,32 22.8,33.5 C22,34.5 21,34.5 20.5,33 Z" fill="none" stroke="#626262" stroke-width="0.6"/>
</g>
<rect x="100.4" y="290.4" width="50.3" height="49.8" fill="none" stroke="#606060" stroke-width="1.3"/>
<path d="M100.4,326.26 L100.4,340.2 L119.51,340.2" fill="none" stroke="#444" stroke-width="1.3"/>
<g font-size="6.7" font-weight="bold" fill="#111" stroke="#111" stroke-width="0.15"><text x="101.0" y="296.84999999999997">32.7</text><text x="149.50" y="296.84999999999997" text-anchor="end">10.6</text><text x="101.0" y="338.80">45.8</text><text x="149.50" y="338.80" text-anchor="end">10.9</text></g>
<ellipse cx="160.00" cy="290.60" rx="0.8" ry="0.9" fill="#7c7c7c"/><circle cx="162.00" cy="289.20" r="0.55" fill="#b8b8b8"/>
<ellipse cx="163.80" cy="344.30" rx="0.8" ry="0.9" fill="#7c7c7c"/><circle cx="166.10" cy="343.00" r="0.55" fill="#b8b8b8"/>
<ellipse cx="160.00" cy="303.05" rx="0.8" ry="0.9" fill="#7c7c7c"/><circle cx="162.00" cy="301.65" r="0.55" fill="#b8b8b8"/>
<ellipse cx="176.38" cy="344.30" rx="0.8" ry="0.9" fill="#7c7c7c"/><circle cx="178.67" cy="343.00" r="0.55" fill="#b8b8b8"/>
<ellipse cx="160.00" cy="315.50" rx="0.8" ry="0.9" fill="#7c7c7c"/><circle cx="162.00" cy="314.10" r="0.55" fill="#b8b8b8"/>
<ellipse cx="188.95" cy="344.30" rx="0.8" ry="0.9" fill="#7c7c7c"/><circle cx="191.25" cy="343.00" r="0.55" fill="#b8b8b8"/>
<ellipse cx="160.00" cy="327.95" rx="0.8" ry="0.9" fill="#7c7c7c"/><circle cx="162.00" cy="326.55" r="0.55" fill="#b8b8b8"/>
<ellipse cx="201.53" cy="344.30" rx="0.8" ry="0.9" fill="#7c7c7c"/><circle cx="203.82" cy="343.00" r="0.55" fill="#b8b8b8"/>
<ellipse cx="160.00" cy="340.40" rx="0.8" ry="0.9" fill="#7c7c7c"/><circle cx="162.00" cy="339.00" r="0.55" fill="#b8b8b8"/>
<ellipse cx="214.10" cy="344.30" rx="0.8" ry="0.9" fill="#7c7c7c"/><circle cx="216.40" cy="343.00" r="0.55" fill="#b8b8b8"/>
<g transform="translate(165.0,290.4) scale(1.0060,0.9960)">
<path d="M0,22 L15,22 L15.5,50 L0,50 Z" fill="#d8d8d8" stroke="none"/>
<path d="M9,48 C8.5,38 9,28 10,21 C12,21 14,23 14.5,26 C14.8,33 14.5,42 14.5,48 Z" fill="#b4b4b4" stroke="none"/>
</g>
<line x1="179.0" y1="290.4" x2="179.0" y2="340.2" stroke="#8c8c8c" stroke-width="0.8"/>
<line x1="165.0" y1="327.0" x2="215.3" y2="327.0" stroke="#b4b4b4" stroke-width="1.1"/>
<g transform="translate(165.0,290.4) scale(1.0060,0.9960)">
<path d="M0,50 L0,22 C2,20 5,18.9 8.5,18.9 C12,19 15,21 16.4,24.2 C16.8,29 16.2,35 15.9,40 C15.8,44 16,47 15.9,50" fill="none" stroke="#7a7a7a" stroke-width="0.7"/>
<path d="M1.5,48 C1.5,36 2.5,25 7,21.5 C11,21 14,23 14.8,27 C15,35 14.5,43 14.2,48" fill="none" stroke="#626262" stroke-width="0.7"/>
<path d="M4,48 C3.5,40 4,30 6,24" fill="none" stroke="#484848" stroke-width="0.6"/>
<path d="M10.5,48 C10,40 10.5,30 11,22.5" fill="none" stroke="#484848" stroke-width="0.7"/>
<path d="M13,48 C13,40 13.2,30 13,24" fill="none" stroke="#484848" stroke-width="0.6"/>
<path d="M16.4,28.4 C18.5,26 21,24.5 23.3,24.2 C24.5,23.5 25.5,22.8 26.4,23.1 C28,23.8 28.8,26 28.5,28.4 C28.3,30.5 28.3,31.5 28,32.6 C27.6,34.5 27.2,36 26.4,36.8 C25,37.8 23.5,37.8 22.2,37.9 C20.5,38.2 19.5,38.5 19,39 C18.2,41 18,43 18,44.3 C17.8,46 17.6,47.5 17.5,49" fill="none" stroke="#7a7a7a" stroke-width="0.7"/>
<path d="M20.6,35.4 a2.1,1.8 0 1,0 4.2,0 a2.1,1.8 0 1,0 -4.2,0" fill="none" stroke="#626262" stroke-width="0.6"/>
</g>
<rect x="165.0" y="290.4" width="50.3" height="49.8" fill="none" stroke="#606060" stroke-width="1.3"/>
<path d="M165.0,326.26 L165.0,340.2 L184.11,340.2" fill="none" stroke="#444" stroke-width="1.3"/>
<g font-size="6.7" font-weight="bold" fill="#111" stroke="#111" stroke-width="0.15"><text x="165.6" y="296.84999999999997">37.1</text><text x="214.60" y="296.84999999999997" text-anchor="end">14</text><text x="165.6" y="338.80">41.8</text><text x="214.60" y="338.80" text-anchor="end">7.1</text></g>
<ellipse cx="227.40" cy="290.60" rx="0.8" ry="0.9" fill="#7c7c7c"/><circle cx="229.40" cy="289.20" r="0.55" fill="#b8b8b8"/>
<ellipse cx="231.20" cy="344.30" rx="0.8" ry="0.9" fill="#7c7c7c"/><circle cx="233.50" cy="343.00" r="0.55" fill="#b8b8b8"/>
<ellipse cx="227.40" cy="303.05" rx="0.8" ry="0.9" fill="#7c7c7c"/><circle cx="229.40" cy="301.65" r="0.55" fill="#b8b8b8"/>
<ellipse cx="243.68" cy="344.30" rx="0.8" ry="0.9" fill="#7c7c7c"/><circle cx="245.97" cy="343.00" r="0.55" fill="#b8b8b8"/>
<ellipse cx="227.40" cy="315.50" rx="0.8" ry="0.9" fill="#7c7c7c"/><circle cx="229.40" cy="314.10" r="0.55" fill="#b8b8b8"/>
<ellipse cx="256.15" cy="344.30" rx="0.8" ry="0.9" fill="#7c7c7c"/><circle cx="258.45" cy="343.00" r="0.55" fill="#b8b8b8"/>
<ellipse cx="227.40" cy="327.95" rx="0.8" ry="0.9" fill="#7c7c7c"/><circle cx="229.40" cy="326.55" r="0.55" fill="#b8b8b8"/>
<ellipse cx="268.62" cy="344.30" rx="0.8" ry="0.9" fill="#7c7c7c"/><circle cx="270.93" cy="343.00" r="0.55" fill="#b8b8b8"/>
<ellipse cx="227.40" cy="340.40" rx="0.8" ry="0.9" fill="#7c7c7c"/><circle cx="229.40" cy="339.00" r="0.55" fill="#b8b8b8"/>
<ellipse cx="281.10" cy="344.30" rx="0.8" ry="0.9" fill="#7c7c7c"/><circle cx="283.40" cy="343.00" r="0.55" fill="#b8b8b8"/>
<g transform="translate(232.4,290.4) scale(0.9980,0.9960)">
<path d="M0,50 L0,26 C2,25 4,25.5 5.6,25.5 C6.5,24.5 7,24 7.8,23.8 C10,23.8 12.5,24.6 14.6,24.4 C16.5,24 18.5,23 20.3,22.1 C22.5,21 24.5,20 26,19.8 C27.5,19.6 28.8,19.8 29.4,20.4 C30.2,21 30.3,22 30,22.7 C29,24.5 27.8,26 26.6,27.8 C25.5,29.5 24.8,31.5 23.7,33.5 C22.5,35.3 21.5,36.5 20.3,38 C19.2,39.5 18.3,41 17.5,42.6 C16.8,44 16.2,45.5 15.8,47.1 L15.2,50 Z" fill="#dedede" stroke="none"/>
</g>
<line x1="246.5" y1="290.4" x2="246.5" y2="340.2" stroke="#8c8c8c" stroke-width="0.8"/>
<line x1="232.4" y1="327.0" x2="282.3" y2="327.0" stroke="#b4b4b4" stroke-width="1.1"/>
<g transform="translate(232.4,290.4) scale(0.9980,0.9960)">
<path d="M0,50 L0,26 C2,25 4,25.5 5.6,25.5 C6.5,24.5 7,24 7.8,23.8 C10,23.8 12.5,24.6 14.6,24.4 C16.5,24 18.5,23 20.3,22.1 C22.5,21 24.5,20 26,19.8 C27.5,19.6 28.8,19.8 29.4,20.4 C30.2,21 30.3,22 30,22.7 C29,24.5 27.8,26 26.6,27.8 C25.5,29.5 24.8,31.5 23.7,33.5 C22.5,35.3 21.5,36.5 20.3,38 C19.2,39.5 18.3,41 17.5,42.6 C16.8,44 16.2,45.5 15.8,47.1 L15.2,50" fill="none" stroke="#7a7a7a" stroke-width="0.75"/>
<path d="M3,49 C3,40 4,32 7,28 C9,26 12,27.5 14,27 C17,26 21,23 25,21.5 C27.5,21 28.5,22 27.5,24 C26,27 23,31 21,35 C19,38 16,41 14.5,44 C13.5,46 13,48 13,50" fill="none" stroke="#626262" stroke-width="0.7"/>
<path d="M6,49 C5.5,42 6.5,35 8.5,31 C10.5,29 13,30 15,29.5 C18,28 21.5,25.5 25,23.5 C24.5,26 22,30 20,33.5 C18,36.5 15.5,40 13.5,43" fill="none" stroke="#484848" stroke-width="0.7"/>
<path d="M9,26.6 C10.5,27.5 11.5,28 12.4,27.8 C13.5,27.5 14.8,26.8 15.8,26.6 C17.5,28.5 19,30.5 19.2,32.3 C18.5,35 17.5,37 16.9,39.1 C16,41 15.2,42.5 14.6,43.7" fill="none" stroke="#626262" stroke-width="0.6"/>
<path d="M25.4,23.2 C24.5,25.5 23.5,27.5 23.2,28.9 C22,31.5 21,34.5 20.3,36.3 C19.8,37 19.2,37.3 18.6,37.4" fill="none" stroke="#333" stroke-width="1.1"/>
<path d="M6.7,30.1 C5.5,33 4.8,36 4.4,38 C4,40 3.6,42 3.3,43.7" fill="none" stroke="#484848" stroke-width="0.6"/>
<path d="M10,48 C10,42 11,37 13,34" fill="none" stroke="#484848" stroke-width="0.6"/>
</g>
<rect x="232.4" y="290.4" width="49.9" height="49.8" fill="none" stroke="#606060" stroke-width="1.3"/>
<path d="M232.4,326.26 L232.4,340.2 L251.36,340.2" fill="none" stroke="#444" stroke-width="1.3"/>
<g font-size="6.7" font-weight="bold" fill="#111" stroke="#111" stroke-width="0.15"><text x="233.0" y="296.84999999999997">19</text><text x="281.90" y="296.84999999999997" text-anchor="end">39</text><text x="233.0" y="338.80">33.9</text><text x="281.90" y="338.80" text-anchor="end">8.1</text></g>
<text x="308.6" y="9.7" font-size="12" font-weight="bold" fill="#111">B</text>
<line x1="337" y1="21" x2="337" y2="342" stroke="#666" stroke-width="1.5"/>
<text transform="translate(326.6,269) rotate(-90)" font-size="12" fill="#111">CD25<tspan font-size="7.8" dy="-4.8">+</tspan><tspan dy="4.8">CD69</tspan><tspan font-size="7.8" dy="-4.8">+</tspan><tspan dy="4.8">CD4</tspan><tspan font-size="7.8" dy="-4.8">+</tspan><tspan dy="4.8"> T Cells/L x 10</tspan><tspan font-size="7.8" dy="-4.8">7</tspan></text>
<line x1="365" y1="353.6" x2="517" y2="353.6" stroke="#444" stroke-width="1.2"/>
<text x="425.6" y="369" font-size="11.8" fill="#111">Week</text>
<line x1="361.0" y1="70.80" x2="518.2" y2="70.80" stroke="#505050" stroke-width="1.45"/>
<text x="357.6" y="73.10" font-size="6.6" fill="#111" text-anchor="end">0</text>
<line x1="361.0" y1="61.22" x2="518.2" y2="61.22" stroke="#505050" stroke-width="1.45"/>
<text x="357.6" y="63.52" font-size="6.6" fill="#111" text-anchor="end">10</text>
<line x1="361.0" y1="51.64" x2="518.2" y2="51.64" stroke="#505050" stroke-width="1.45"/>
<text x="357.6" y="53.94" font-size="6.6" fill="#111" text-anchor="end">20</text>
<line x1="361.0" y1="42.06" x2="518.2" y2="42.06" stroke="#505050" stroke-width="1.45"/>
<text x="357.6" y="44.36" font-size="6.6" fill="#111" text-anchor="end">30</text>
<line x1="361.0" y1="32.48" x2="518.2" y2="32.48" stroke="#505050" stroke-width="1.45"/>
<text x="357.6" y="34.78" font-size="6.6" fill="#111" text-anchor="end">40</text>
<line x1="361.0" y1="22.90" x2="518.2" y2="22.90" stroke="#6a6a6a" stroke-width="1.45"/>
<text x="357.6" y="25.20" font-size="6.6" fill="#111" text-anchor="end">50</text>
<line x1="518.2" y1="22.4" x2="518.2" y2="70.8" stroke="#333" stroke-width="1"/>
<line x1="363.5" y1="22.9" x2="363.5" y2="72.8" stroke="#222" stroke-width="1.1"/>
<line x1="363.50" y1="70.8" x2="363.50" y2="73.0" stroke="#222" stroke-width="0.9"/>
<line x1="394.44" y1="70.8" x2="394.44" y2="73.0" stroke="#222" stroke-width="0.9"/>
<line x1="425.38" y1="70.8" x2="425.38" y2="73.0" stroke="#222" stroke-width="0.9"/>
<line x1="456.32" y1="70.8" x2="456.32" y2="73.0" stroke="#222" stroke-width="0.9"/>
<line x1="487.26" y1="70.8" x2="487.26" y2="73.0" stroke="#222" stroke-width="0.9"/>
<line x1="518.20" y1="70.8" x2="518.20" y2="73.0" stroke="#222" stroke-width="0.9"/>
<text x="378.97" y="79.70" font-size="6.6" fill="#111" text-anchor="middle">0</text>
<text x="409.91" y="79.70" font-size="6.6" fill="#111" text-anchor="middle">4</text>
<text x="440.85" y="79.70" font-size="6.6" fill="#111" text-anchor="middle">8</text>
<text x="471.79" y="79.70" font-size="6.6" fill="#111" text-anchor="middle">12</text>
<text x="502.73" y="79.70" font-size="6.6" fill="#111" text-anchor="middle">16</text>
<polyline points="378.97,69.84 409.91,69.84 440.85,69.84 471.79,67.93" fill="none" stroke="#111" stroke-width="0.9"/>
<polyline points="378.97,69.84 409.91,69.84 440.85,69.84 471.79,67.93" fill="none" stroke="#111" stroke-width="0.9"/>
<polyline points="378.97,69.84 409.91,67.93 440.85,69.84 471.79,67.93" fill="none" stroke="#111" stroke-width="0.9"/>
<polyline points="378.97,70.80 409.91,68.88 440.85,66.97 471.79,67.93" fill="none" stroke="#111" stroke-width="0.9"/>
<polyline points="378.97,68.88 409.91,65.05 440.85,69.84 471.79,68.88 502.73,69.84" fill="none" stroke="#111" stroke-width="0.9"/>
<polyline points="440.85,69.84 471.79,67.93" fill="none" stroke="#111" stroke-width="0.9"/>
<path d="M376.37,67.242 L381.57000000000005,72.442 M381.57000000000005,67.242 L376.37,72.442" stroke="#111" stroke-width="1"/>
<path d="M407.31,67.242 L412.51000000000005,72.442 M412.51000000000005,67.242 L407.31,72.442" stroke="#111" stroke-width="1"/>
<path d="M438.25,67.242 L443.45000000000005,72.442 M443.45000000000005,67.242 L438.25,72.442" stroke="#111" stroke-width="1"/>
<path d="M469.19,65.32600000000001 L474.39000000000004,70.526 M474.39000000000004,65.32600000000001 L469.19,70.526" stroke="#111" stroke-width="1"/>
<circle cx="378.97" cy="69.842" r="2.6" fill="#fff" stroke="#111" stroke-width="1.1"/>
<circle cx="409.91" cy="69.842" r="2.6" fill="#fff" stroke="#111" stroke-width="1.1"/>
<circle cx="440.85" cy="69.842" r="2.6" fill="#fff" stroke="#111" stroke-width="1.1"/>
<circle cx="471.79" cy="67.926" r="2.6" fill="#fff" stroke="#111" stroke-width="1.1"/>
<path d="M378.97,67.242 L381.57000000000005,69.842 L378.97,72.442 L376.37,69.842 Z" fill="#fff" stroke="#111" stroke-width="1.1"/>
<path d="M409.91,65.32600000000001 L412.51000000000005,67.926 L409.91,70.526 L407.31,67.926 Z" fill="#fff" stroke="#111" stroke-width="1.1"/>
<path d="M440.85,67.242 L443.45000000000005,69.842 L440.85,72.442 L438.25,69.842 Z" fill="#fff" stroke="#111" stroke-width="1.1"/>
<path d="M471.79,65.32600000000001 L474.39000000000004,67.926 L471.79,70.526 L469.19,67.926 Z" fill="#fff" stroke="#111" stroke-width="1.1"/>
<rect x="376.37" y="68.2" width="5.2" height="5.2" fill="#fff" stroke="#111" stroke-width="1.1"/>
<rect x="407.31" y="66.284" width="5.2" height="5.2" fill="#fff" stroke="#111" stroke-width="1.1"/>
<rect x="438.25" y="64.36800000000001" width="5.2" height="5.2" fill="#fff" stroke="#111" stroke-width="1.1"/>
<rect x="469.19" y="65.32600000000001" width="5.2" height="5.2" fill="#fff" stroke="#111" stroke-width="1.1"/>
<path d="M378.97,65.68400000000001 L381.97,71.484 L375.97,71.484 Z" fill="#fff" stroke="#111" stroke-width="1.1"/>
<path d="M409.91,61.85199999999999 L412.91,67.65199999999999 L406.91,67.65199999999999 Z" fill="#fff" stroke="#111" stroke-width="1.1"/>
<path d="M440.85,66.64200000000001 L443.85,72.442 L437.85,72.442 Z" fill="#fff" stroke="#111" stroke-width="1.1"/>
<path d="M471.79,65.68400000000001 L474.79,71.484 L468.79,71.484 Z" fill="#fff" stroke="#111" stroke-width="1.1"/>
<path d="M502.73,66.64200000000001 L505.73,72.442 L499.73,72.442 Z" fill="#fff" stroke="#111" stroke-width="1.1"/>
<circle cx="440.85" cy="69.842" r="2.3400000000000003" fill="#111"/>
<circle cx="471.79" cy="67.926" r="2.3400000000000003" fill="#111"/>
<line x1="361.0" y1="134.90" x2="518.2" y2="134.90" stroke="#505050" stroke-width="1.45"/>
<text x="357.6" y="137.20" font-size="6.6" fill="#111" text-anchor="end">0</text>
<line x1="361.0" y1="125.32" x2="518.2" y2="125.32" stroke="#505050" stroke-width="1.45"/>
<text x="357.6" y="127.62" font-size="6.6" fill="#111" text-anchor="end">10</text>
<line x1="361.0" y1="115.74" x2="518.2" y2="115.74" stroke="#505050" stroke-width="1.45"/>
<text x="357.6" y="118.04" font-size="6.6" fill="#111" text-anchor="end">20</text>
<line x1="361.0" y1="106.16" x2="518.2" y2="106.16" stroke="#505050" stroke-width="1.45"/>
<text x="357.6" y="108.46" font-size="6.6" fill="#111" text-anchor="end">30</text>
<line x1="361.0" y1="96.58" x2="518.2" y2="96.58" stroke="#505050" stroke-width="1.45"/>
<text x="357.6" y="98.88" font-size="6.6" fill="#111" text-anchor="end">40</text>
<line x1="361.0" y1="87.00" x2="518.2" y2="87.00" stroke="#6a6a6a" stroke-width="1.45"/>
<text x="357.6" y="89.30" font-size="6.6" fill="#111" text-anchor="end">50</text>
<line x1="518.2" y1="86.5" x2="518.2" y2="134.9" stroke="#333" stroke-width="1"/>
<line x1="363.5" y1="87.0" x2="363.5" y2="136.9" stroke="#222" stroke-width="1.1"/>
<line x1="363.50" y1="134.9" x2="363.50" y2="137.1" stroke="#222" stroke-width="0.9"/>
<line x1="394.44" y1="134.9" x2="394.44" y2="137.1" stroke="#222" stroke-width="0.9"/>
<line x1="425.38" y1="134.9" x2="425.38" y2="137.1" stroke="#222" stroke-width="0.9"/>
<line x1="456.32" y1="134.9" x2="456.32" y2="137.1" stroke="#222" stroke-width="0.9"/>
<line x1="487.26" y1="134.9" x2="487.26" y2="137.1" stroke="#222" stroke-width="0.9"/>
<line x1="518.20" y1="134.9" x2="518.20" y2="137.1" stroke="#222" stroke-width="0.9"/>
<text x="378.97" y="143.80" font-size="6.6" fill="#111" text-anchor="middle">0</text>
<text x="409.91" y="143.80" font-size="6.6" fill="#111" text-anchor="middle">4</text>
<text x="440.85" y="143.80" font-size="6.6" fill="#111" text-anchor="middle">8</text>
<text x="471.79" y="143.80" font-size="6.6" fill="#111" text-anchor="middle">12</text>
<text x="502.73" y="143.80" font-size="6.6" fill="#111" text-anchor="middle">16</text>
<polyline points="378.97,133.94 409.91,132.98 440.85,129.15 471.79,133.94" fill="none" stroke="#111" stroke-width="0.9"/>
<polyline points="378.97,131.07 409.91,132.98 440.85,125.32 471.79,132.03 502.73,132.98" fill="none" stroke="#111" stroke-width="0.9"/>
<polyline points="378.97,133.94 409.91,132.98 440.85,130.11 471.79,133.94 502.73,134.90" fill="none" stroke="#111" stroke-width="0.9"/>
<polyline points="378.97,132.98 409.91,132.98 440.85,129.15 471.79,133.94 502.73,132.98" fill="none" stroke="#111" stroke-width="0.9"/>
<polyline points="378.97,133.94 409.91,133.94 440.85,130.11 471.79,132.98 502.73,133.94" fill="none" stroke="#111" stroke-width="0.9"/>
<polyline points="378.97,132.98 409.91,132.03 440.85,127.24 471.79,126.28 502.73,130.11" fill="none" stroke="#111" stroke-width="0.9"/>
<circle cx="378.97" cy="133.942" r="2.3400000000000003" fill="#111"/>
<circle cx="409.91" cy="132.984" r="2.3400000000000003" fill="#111"/>
<circle cx="440.85" cy="129.15200000000002" r="2.3400000000000003" fill="#111"/>
<circle cx="471.79" cy="133.942" r="2.3400000000000003" fill="#111"/>
<rect x="376.37" y="128.46800000000002" width="5.2" height="5.2" fill="#fff" stroke="#111" stroke-width="1.1"/>
<rect x="407.31" y="130.38400000000001" width="5.2" height="5.2" fill="#fff" stroke="#111" stroke-width="1.1"/>
<rect x="438.25" y="122.72000000000001" width="5.2" height="5.2" fill="#fff" stroke="#111" stroke-width="1.1"/>
<rect x="469.19" y="129.42600000000002" width="5.2" height="5.2" fill="#fff" stroke="#111" stroke-width="1.1"/>
<rect x="500.13" y="130.38400000000001" width="5.2" height="5.2" fill="#fff" stroke="#111" stroke-width="1.1"/>
<path d="M378.97,130.74200000000002 L381.97,136.542 L375.97,136.542 Z" fill="#fff" stroke="#111" stroke-width="1.1"/>
<path d="M409.91,129.78400000000002 L412.91,135.584 L406.91,135.584 Z" fill="#fff" stroke="#111" stroke-width="1.1"/>
<path d="M440.85,126.91000000000003 L443.85,132.71 L437.85,132.71 Z" fill="#fff" stroke="#111" stroke-width="1.1"/>
<path d="M471.79,130.74200000000002 L474.79,136.542 L468.79,136.542 Z" fill="#fff" stroke="#111" stroke-width="1.1"/>
<path d="M502.73,131.70000000000002 L505.73,137.5 L499.73,137.5 Z" fill="#fff" stroke="#111" stroke-width="1.1"/>
<circle cx="378.97" cy="132.984" r="2.6" fill="#fff" stroke="#111" stroke-width="1.1"/>
<circle cx="409.91" cy="132.984" r="2.6" fill="#fff" stroke="#111" stroke-width="1.1"/>
<circle cx="440.85" cy="129.15200000000002" r="2.6" fill="#fff" stroke="#111" stroke-width="1.1"/>
<circle cx="471.79" cy="133.942" r="2.6" fill="#fff" stroke="#111" stroke-width="1.1"/>
<circle cx="502.73" cy="132.984" r="2.6" fill="#fff" stroke="#111" stroke-width="1.1"/>
<path d="M376.37,131.342 L381.57000000000005,136.542 M381.57000000000005,131.342 L376.37,136.542" stroke="#111" stroke-width="1"/>
<path d="M407.31,131.342 L412.51000000000005,136.542 M412.51000000000005,131.342 L407.31,136.542" stroke="#111" stroke-width="1"/>
<path d="M438.25,127.51000000000002 L443.45000000000005,132.71 M443.45000000000005,127.51000000000002 L438.25,132.71" stroke="#111" stroke-width="1"/>
<path d="M469.19,130.38400000000001 L474.39000000000004,135.584 M474.39000000000004,130.38400000000001 L469.19,135.584" stroke="#111" stroke-width="1"/>
<path d="M500.13,131.342 L505.33000000000004,136.542 M505.33000000000004,131.342 L500.13,136.542" stroke="#111" stroke-width="1"/>
<path d="M378.97,130.38400000000001 L381.57000000000005,132.984 L378.97,135.584 L376.37,132.984 Z" fill="#fff" stroke="#111" stroke-width="1.1"/>
<path d="M409.91,129.42600000000002 L412.51000000000005,132.026 L409.91,134.626 L407.31,132.026 Z" fill="#fff" stroke="#111" stroke-width="1.1"/>
<path d="M440.85,124.63600000000001 L443.45000000000005,127.236 L440.85,129.836 L438.25,127.236 Z" fill="#fff" stroke="#111" stroke-width="1.1"/>
<path d="M471.79,123.67800000000001 L474.39000000000004,126.278 L471.79,128.87800000000001 L469.19,126.278 Z" fill="#fff" stroke="#111" stroke-width="1.1"/>
<path d="M502.73,127.51000000000002 L505.33000000000004,130.11 L502.73,132.71 L500.13,130.11 Z" fill="#fff" stroke="#111" stroke-width="1.1"/>
<line x1="361.0" y1="202.20" x2="518.2" y2="202.20" stroke="#505050" stroke-width="1.45"/>
<text x="357.6" y="204.50" font-size="6.6" fill="#111" text-anchor="end">0</text>
<line x1="361.0" y1="192.52" x2="518.2" y2="192.52" stroke="#505050" stroke-width="1.45"/>
<text x="357.6" y="194.82" font-size="6.6" fill="#111" text-anchor="end">10</text>
<line x1="361.0" y1="182.84" x2="518.2" y2="182.84" stroke="#505050" stroke-width="1.45"/>
<text x="357.6" y="185.14" font-size="6.6" fill="#111" text-anchor="end">20</text>
<line x1="361.0" y1="173.16" x2="518.2" y2="173.16" stroke="#505050" stroke-width="1.45"/>
<text x="357.6" y="175.46" font-size="6.6" fill="#111" text-anchor="end">30</text>
<line x1="361.0" y1="163.48" x2="518.2" y2="163.48" stroke="#505050" stroke-width="1.45"/>
<text x="357.6" y="165.78" font-size="6.6" fill="#111" text-anchor="end">40</text>
<line x1="361.0" y1="153.80" x2="518.2" y2="153.80" stroke="#6a6a6a" stroke-width="1.45"/>
<text x="357.6" y="156.10" font-size="6.6" fill="#111" text-anchor="end">50</text>
<line x1="518.2" y1="153.3" x2="518.2" y2="202.2" stroke="#333" stroke-width="1"/>
<line x1="363.5" y1="153.8" x2="363.5" y2="204.2" stroke="#222" stroke-width="1.1"/>
<line x1="363.50" y1="202.2" x2="363.50" y2="204.39999999999998" stroke="#222" stroke-width="0.9"/>
<line x1="394.44" y1="202.2" x2="394.44" y2="204.39999999999998" stroke="#222" stroke-width="0.9"/>
<line x1="425.38" y1="202.2" x2="425.38" y2="204.39999999999998" stroke="#222" stroke-width="0.9"/>
<line x1="456.32" y1="202.2" x2="456.32" y2="204.39999999999998" stroke="#222" stroke-width="0.9"/>
<line x1="487.26" y1="202.2" x2="487.26" y2="204.39999999999998" stroke="#222" stroke-width="0.9"/>
<line x1="518.20" y1="202.2" x2="518.20" y2="204.39999999999998" stroke="#222" stroke-width="0.9"/>
<text x="378.97" y="211.10" font-size="6.6" fill="#111" text-anchor="middle">0</text>
<text x="409.91" y="211.10" font-size="6.6" fill="#111" text-anchor="middle">4</text>
<text x="440.85" y="211.10" font-size="6.6" fill="#111" text-anchor="middle">8</text>
<text x="471.79" y="211.10" font-size="6.6" fill="#111" text-anchor="middle">12</text>
<text x="502.73" y="211.10" font-size="6.6" fill="#111" text-anchor="middle">16</text>
<polyline points="378.97,201.23 409.91,199.30 440.85,200.26 471.79,201.23" fill="none" stroke="#111" stroke-width="0.9"/>
<polyline points="378.97,199.30 409.91,198.33 440.85,200.26 471.79,201.23 502.73,200.26" fill="none" stroke="#111" stroke-width="0.9"/>
<polyline points="378.97,201.23 409.91,199.30 440.85,201.23 471.79,200.26 502.73,200.26" fill="none" stroke="#111" stroke-width="0.9"/>
<polyline points="378.97,200.26 409.91,198.33 440.85,201.23 471.79,201.23 502.73,200.26" fill="none" stroke="#111" stroke-width="0.9"/>
<polyline points="378.97,199.30 409.91,198.33 440.85,194.46 471.79,197.36 502.73,199.30" fill="none" stroke="#111" stroke-width="0.9"/>
<polyline points="378.97,200.26 409.91,200.26 440.85,201.23 471.79,200.26 502.73,199.30" fill="none" stroke="#111" stroke-width="0.9"/>
<circle cx="378.97" cy="201.232" r="2.3400000000000003" fill="#111"/>
<circle cx="409.91" cy="199.296" r="2.3400000000000003" fill="#111"/>
<circle cx="440.85" cy="200.26399999999998" r="2.3400000000000003" fill="#111"/>
<circle cx="471.79" cy="201.232" r="2.3400000000000003" fill="#111"/>
<rect x="376.37" y="196.696" width="5.2" height="5.2" fill="#fff" stroke="#111" stroke-width="1.1"/>
<rect x="407.31" y="195.728" width="5.2" height="5.2" fill="#fff" stroke="#111" stroke-width="1.1"/>
<rect x="438.25" y="197.664" width="5.2" height="5.2" fill="#fff" stroke="#111" stroke-width="1.1"/>
<rect x="469.19" y="198.632" width="5.2" height="5.2" fill="#fff" stroke="#111" stroke-width="1.1"/>
<rect x="500.13" y="197.664" width="5.2" height="5.2" fill="#fff" stroke="#111" stroke-width="1.1"/>
<circle cx="378.97" cy="201.232" r="2.6" fill="#fff" stroke="#111" stroke-width="1.1"/>
<circle cx="409.91" cy="199.296" r="2.6" fill="#fff" stroke="#111" stroke-width="1.1"/>
<circle cx="440.85" cy="201.232" r="2.6" fill="#fff" stroke="#111" stroke-width="1.1"/>
<circle cx="471.79" cy="200.26399999999998" r="2.6" fill="#fff" stroke="#111" stroke-width="1.1"/>
<circle cx="502.73" cy="200.26399999999998" r="2.6" fill="#fff" stroke="#111" stroke-width="1.1"/>
<path d="M378.97,197.664 L381.57000000000005,200.26399999999998 L378.97,202.86399999999998 L376.37,200.26399999999998 Z" fill="#fff" stroke="#111" stroke-width="1.1"/>
<path d="M409.91,195.728 L412.51000000000005,198.328 L409.91,200.928 L407.31,198.328 Z" fill="#fff" stroke="#111" stroke-width="1.1"/>
<path d="M440.85,198.632 L443.45000000000005,201.232 L440.85,203.832 L438.25,201.232 Z" fill="#fff" stroke="#111" stroke-width="1.1"/>
<path d="M471.79,198.632 L474.39000000000004,201.232 L471.79,203.832 L469.19,201.232 Z" fill="#fff" stroke="#111" stroke-width="1.1"/>
<path d="M502.73,197.664 L505.33000000000004,200.26399999999998 L502.73,202.86399999999998 L500.13,200.26399999999998 Z" fill="#fff" stroke="#111" stroke-width="1.1"/>
<path d="M376.37,196.696 L381.57000000000005,201.896 M381.57000000000005,196.696 L376.37,201.896" stroke="#111" stroke-width="1"/>
<path d="M407.31,195.728 L412.51000000000005,200.928 M412.51000000000005,195.728 L407.31,200.928" stroke="#111" stroke-width="1"/>
<path d="M438.25,191.856 L443.45000000000005,197.05599999999998 M443.45000000000005,191.856 L438.25,197.05599999999998" stroke="#111" stroke-width="1"/>
<path d="M469.19,194.76 L474.39000000000004,199.95999999999998 M474.39000000000004,194.76 L469.19,199.95999999999998" stroke="#111" stroke-width="1"/>
<path d="M500.13,196.696 L505.33000000000004,201.896 M505.33000000000004,196.696 L500.13,201.896" stroke="#111" stroke-width="1"/>
<path d="M378.97,197.064 L381.97,202.86399999999998 L375.97,202.86399999999998 Z" fill="#fff" stroke="#111" stroke-width="1.1"/>
<path d="M409.91,197.064 L412.91,202.86399999999998 L406.91,202.86399999999998 Z" fill="#fff" stroke="#111" stroke-width="1.1"/>
<path d="M440.85,198.032 L443.85,203.832 L437.85,203.832 Z" fill="#fff" stroke="#111" stroke-width="1.1"/>
<path d="M471.79,197.064 L474.79,202.86399999999998 L468.79,202.86399999999998 Z" fill="#fff" stroke="#111" stroke-width="1.1"/>
<path d="M502.73,196.096 L505.73,201.896 L499.73,201.896 Z" fill="#fff" stroke="#111" stroke-width="1.1"/>
<line x1="361.0" y1="270.90" x2="518.2" y2="270.90" stroke="#505050" stroke-width="1.45"/>
<text x="357.6" y="273.20" font-size="6.6" fill="#111" text-anchor="end">0</text>
<line x1="361.0" y1="261.06" x2="518.2" y2="261.06" stroke="#505050" stroke-width="1.45"/>
<text x="357.6" y="263.36" font-size="6.6" fill="#111" text-anchor="end">10</text>
<line x1="361.0" y1="251.22" x2="518.2" y2="251.22" stroke="#505050" stroke-width="1.45"/>
<text x="357.6" y="253.52" font-size="6.6" fill="#111" text-anchor="end">20</text>
<line x1="361.0" y1="241.38" x2="518.2" y2="241.38" stroke="#505050" stroke-width="1.45"/>
<text x="357.6" y="243.68" font-size="6.6" fill="#111" text-anchor="end">30</text>
<line x1="361.0" y1="231.54" x2="518.2" y2="231.54" stroke="#505050" stroke-width="1.45"/>
<text x="357.6" y="233.84" font-size="6.6" fill="#111" text-anchor="end">40</text>
<line x1="361.0" y1="221.70" x2="518.2" y2="221.70" stroke="#6a6a6a" stroke-width="1.45"/>
<text x="357.6" y="224.00" font-size="6.6" fill="#111" text-anchor="end">50</text>
<line x1="518.2" y1="221.2" x2="518.2" y2="270.9" stroke="#333" stroke-width="1"/>
<line x1="363.5" y1="221.7" x2="363.5" y2="272.9" stroke="#222" stroke-width="1.1"/>
<line x1="363.50" y1="270.9" x2="363.50" y2="273.09999999999997" stroke="#222" stroke-width="0.9"/>
<line x1="394.44" y1="270.9" x2="394.44" y2="273.09999999999997" stroke="#222" stroke-width="0.9"/>
<line x1="425.38" y1="270.9" x2="425.38" y2="273.09999999999997" stroke="#222" stroke-width="0.9"/>
<line x1="456.32" y1="270.9" x2="456.32" y2="273.09999999999997" stroke="#222" stroke-width="0.9"/>
<line x1="487.26" y1="270.9" x2="487.26" y2="273.09999999999997" stroke="#222" stroke-width="0.9"/>
<line x1="518.20" y1="270.9" x2="518.20" y2="273.09999999999997" stroke="#222" stroke-width="0.9"/>
<text x="378.97" y="279.80" font-size="6.6" fill="#111" text-anchor="middle">0</text>
<text x="409.91" y="279.80" font-size="6.6" fill="#111" text-anchor="middle">4</text>
<text x="440.85" y="279.80" font-size="6.6" fill="#111" text-anchor="middle">8</text>
<text x="471.79" y="279.80" font-size="6.6" fill="#111" text-anchor="middle">12</text>
<text x="502.73" y="279.80" font-size="6.6" fill="#111" text-anchor="middle">16</text>
<polyline points="378.97,268.93 409.91,269.92 440.85,267.95 471.79,268.93 502.73,269.92" fill="none" stroke="#111" stroke-width="0.9"/>
<polyline points="378.97,269.92 409.91,268.93 440.85,266.96 471.79,269.92 502.73,269.92" fill="none" stroke="#111" stroke-width="0.9"/>
<polyline points="378.97,257.12 409.91,257.12 440.85,253.19 471.79,256.14 502.73,257.12" fill="none" stroke="#111" stroke-width="0.9"/>
<polyline points="378.97,269.92 409.91,269.92 440.85,266.96 471.79,270.90 502.73,260.08" fill="none" stroke="#111" stroke-width="0.9"/>
<polyline points="378.97,268.93 409.91,268.93 440.85,265.98 471.79,269.92 502.73,268.93" fill="none" stroke="#111" stroke-width="0.9"/>
<circle cx="378.97" cy="268.93199999999996" r="2.6" fill="#fff" stroke="#111" stroke-width="1.1"/>
<circle cx="409.91" cy="269.916" r="2.6" fill="#fff" stroke="#111" stroke-width="1.1"/>
<circle cx="440.85" cy="267.948" r="2.6" fill="#fff" stroke="#111" stroke-width="1.1"/>
<circle cx="471.79" cy="268.93199999999996" r="2.6" fill="#fff" stroke="#111" stroke-width="1.1"/>
<circle cx="502.73" cy="269.916" r="2.6" fill="#fff" stroke="#111" stroke-width="1.1"/>
<path d="M376.37,267.316 L381.57000000000005,272.516 M381.57000000000005,267.316 L376.37,272.516" stroke="#111" stroke-width="1"/>
<path d="M407.31,266.33199999999994 L412.51000000000005,271.532 M412.51000000000005,266.33199999999994 L407.31,271.532" stroke="#111" stroke-width="1"/>
<path d="M438.25,264.364 L443.45000000000005,269.564 M443.45000000000005,264.364 L438.25,269.564" stroke="#111" stroke-width="1"/>
<path d="M469.19,267.316 L474.39000000000004,272.516 M474.39000000000004,267.316 L469.19,272.516" stroke="#111" stroke-width="1"/>
<path d="M500.13,267.316 L505.33000000000004,272.516 M505.33000000000004,267.316 L500.13,272.516" stroke="#111" stroke-width="1"/>
<rect x="376.37" y="254.52399999999997" width="5.2" height="5.2" fill="#fff" stroke="#111" stroke-width="1.1"/>
<rect x="407.31" y="254.52399999999997" width="5.2" height="5.2" fill="#fff" stroke="#111" stroke-width="1.1"/>
<rect x="438.25" y="250.588" width="5.2" height="5.2" fill="#fff" stroke="#111" stroke-width="1.1"/>
<rect x="469.19" y="253.54" width="5.2" height="5.2" fill="#fff" stroke="#111" stroke-width="1.1"/>
<rect x="500.13" y="254.52399999999997" width="5.2" height="5.2" fill="#fff" stroke="#111" stroke-width="1.1"/>
<path d="M378.97,266.71599999999995 L381.97,272.516 L375.97,272.516 Z" fill="#fff" stroke="#111" stroke-width="1.1"/>
<path d="M409.91,266.71599999999995 L412.91,272.516 L406.91,272.516 Z" fill="#fff" stroke="#111" stroke-width="1.1"/>
<path d="M440.85,263.76399999999995 L443.85,269.564 L437.85,269.564 Z" fill="#fff" stroke="#111" stroke-width="1.1"/>
<path d="M471.79,267.69999999999993 L474.79,273.5 L468.79,273.5 Z" fill="#fff" stroke="#111" stroke-width="1.1"/>
<path d="M502.73,256.8759999999999 L505.73,262.676 L499.73,262.676 Z" fill="#fff" stroke="#111" stroke-width="1.1"/>
<path d="M378.97,266.33199999999994 L381.57000000000005,268.93199999999996 L378.97,271.532 L376.37,268.93199999999996 Z" fill="#fff" stroke="#111" stroke-width="1.1"/>
<path d="M409.91,266.33199999999994 L412.51000000000005,268.93199999999996 L409.91,271.532 L407.31,268.93199999999996 Z" fill="#fff" stroke="#111" stroke-width="1.1"/>
<path d="M440.85,263.37999999999994 L443.45000000000005,265.97999999999996 L440.85,268.58 L438.25,265.97999999999996 Z" fill="#fff" stroke="#111" stroke-width="1.1"/>
<path d="M471.79,267.316 L474.39000000000004,269.916 L471.79,272.516 L469.19,269.916 Z" fill="#fff" stroke="#111" stroke-width="1.1"/>
<path d="M502.73,266.33199999999994 L505.33000000000004,268.93199999999996 L502.73,271.532 L500.13,268.93199999999996 Z" fill="#fff" stroke="#111" stroke-width="1.1"/>
<line x1="361.0" y1="340.00" x2="518.2" y2="340.00" stroke="#505050" stroke-width="1.45"/>
<text x="357.6" y="342.30" font-size="6.6" fill="#111" text-anchor="end">0</text>
<line x1="361.0" y1="329.78" x2="518.2" y2="329.78" stroke="#505050" stroke-width="1.45"/>
<text x="357.6" y="332.08" font-size="6.6" fill="#111" text-anchor="end">10</text>
<line x1="361.0" y1="319.56" x2="518.2" y2="319.56" stroke="#505050" stroke-width="1.45"/>
<text x="357.6" y="321.86" font-size="6.6" fill="#111" text-anchor="end">20</text>
<line x1="361.0" y1="309.34" x2="518.2" y2="309.34" stroke="#505050" stroke-width="1.45"/>
<text x="357.6" y="311.64" font-size="6.6" fill="#111" text-anchor="end">30</text>
<line x1="361.0" y1="299.12" x2="518.2" y2="299.12" stroke="#505050" stroke-width="1.45"/>
<text x="357.6" y="301.42" font-size="6.6" fill="#111" text-anchor="end">40</text>
<line x1="361.0" y1="288.90" x2="518.2" y2="288.90" stroke="#6a6a6a" stroke-width="1.45"/>
<text x="357.6" y="291.20" font-size="6.6" fill="#111" text-anchor="end">50</text>
<line x1="518.2" y1="288.4" x2="518.2" y2="340.0" stroke="#333" stroke-width="1"/>
<line x1="363.5" y1="288.9" x2="363.5" y2="342.0" stroke="#222" stroke-width="1.1"/>
<line x1="363.50" y1="340.0" x2="363.50" y2="342.2" stroke="#222" stroke-width="0.9"/>
<line x1="394.44" y1="340.0" x2="394.44" y2="342.2" stroke="#222" stroke-width="0.9"/>
<line x1="425.38" y1="340.0" x2="425.38" y2="342.2" stroke="#222" stroke-width="0.9"/>
<line x1="456.32" y1="340.0" x2="456.32" y2="342.2" stroke="#222" stroke-width="0.9"/>
<line x1="487.26" y1="340.0" x2="487.26" y2="342.2" stroke="#222" stroke-width="0.9"/>
<line x1="518.20" y1="340.0" x2="518.20" y2="342.2" stroke="#222" stroke-width="0.9"/>
<text x="378.97" y="348.90" font-size="6.6" fill="#111" text-anchor="middle">0</text>
<text x="409.91" y="348.90" font-size="6.6" fill="#111" text-anchor="middle">4</text>
<text x="440.85" y="348.90" font-size="6.6" fill="#111" text-anchor="middle">8</text>
<text x="471.79" y="348.90" font-size="6.6" fill="#111" text-anchor="middle">12</text>
<text x="502.73" y="348.90" font-size="6.6" fill="#111" text-anchor="middle">16</text>
<polyline points="378.97,331.82 409.91,330.80 440.85,328.76 471.79,330.80 502.73,329.78" fill="none" stroke="#111" stroke-width="0.9"/>
<polyline points="378.97,326.71 409.91,303.21 440.85,306.27 471.79,312.41 502.73,296.05" fill="none" stroke="#111" stroke-width="0.9"/>
<polyline points="378.97,329.78 409.91,320.58 440.85,318.54 471.79,295.03 502.73,298.10" fill="none" stroke="#111" stroke-width="0.9"/>
<polyline points="378.97,326.71 409.91,312.41 440.85,327.74 471.79,329.78 502.73,319.56" fill="none" stroke="#111" stroke-width="0.9"/>
<polyline points="378.97,331.82 409.91,332.85 440.85,325.69 471.79,320.58 502.73,301.16" fill="none" stroke="#111" stroke-width="0.9"/>
<polyline points="409.91,329.78 440.85,327.74 471.79,329.78" fill="none" stroke="#111" stroke-width="0.9"/>
<polyline points="378.97,338.47 409.91,327.74 440.85,324.67 471.79,332.85 502.73,329.78" fill="none" stroke="#111" stroke-width="0.9"/>
<polyline points="378.97,338.47 409.91,329.78 440.85,327.74 471.79,329.78 502.73,329.78" fill="none" stroke="#111" stroke-width="0.9"/>
<circle cx="378.97" cy="331.824" r="2.6" fill="#fff" stroke="#111" stroke-width="1.1"/>
<circle cx="409.91" cy="330.802" r="2.6" fill="#fff" stroke="#111" stroke-width="1.1"/>
<circle cx="440.85" cy="328.758" r="2.6" fill="#fff" stroke="#111" stroke-width="1.1"/>
<circle cx="471.79" cy="330.802" r="2.6" fill="#fff" stroke="#111" stroke-width="1.1"/>
<circle cx="502.73" cy="329.78" r="2.6" fill="#fff" stroke="#111" stroke-width="1.1"/>
<rect x="376.37" y="324.114" width="5.2" height="5.2" fill="#fff" stroke="#111" stroke-width="1.1"/>
<rect x="407.31" y="300.60799999999995" width="5.2" height="5.2" fill="#fff" stroke="#111" stroke-width="1.1"/>
<rect x="438.25" y="303.674" width="5.2" height="5.2" fill="#fff" stroke="#111" stroke-width="1.1"/>
<rect x="469.19" y="309.806" width="5.2" height="5.2" fill="#fff" stroke="#111" stroke-width="1.1"/>
<rect x="500.13" y="293.45399999999995" width="5.2" height="5.2" fill="#fff" stroke="#111" stroke-width="1.1"/>
<path d="M378.97,326.5799999999999 L381.97,332.38 L375.97,332.38 Z" fill="#fff" stroke="#111" stroke-width="1.1"/>
<path d="M409.91,317.38199999999995 L412.91,323.182 L406.91,323.182 Z" fill="#fff" stroke="#111" stroke-width="1.1"/>
<path d="M440.85,315.33799999999997 L443.85,321.13800000000003 L437.85,321.13800000000003 Z" fill="#fff" stroke="#111" stroke-width="1.1"/>
<path d="M471.79,291.83199999999994 L474.79,297.632 L468.79,297.632 Z" fill="#fff" stroke="#111" stroke-width="1.1"/>
<path d="M502.73,294.8979999999999 L505.73,300.698 L499.73,300.698 Z" fill="#fff" stroke="#111" stroke-width="1.1"/>
<circle cx="378.97" cy="326.714" r="2.6" fill="#fff" stroke="#111" stroke-width="1.1"/>
<circle cx="409.91" cy="312.406" r="2.6" fill="#fff" stroke="#111" stroke-width="1.1"/>
<circle cx="440.85" cy="327.736" r="2.6" fill="#fff" stroke="#111" stroke-width="1.1"/>
<circle cx="471.79" cy="329.78" r="2.6" fill="#fff" stroke="#111" stroke-width="1.1"/>
<circle cx="502.73" cy="319.56" r="2.6" fill="#fff" stroke="#111" stroke-width="1.1"/>
<path d="M378.97,329.224 L381.57000000000005,331.824 L378.97,334.42400000000004 L376.37,331.824 Z" fill="#fff" stroke="#111" stroke-width="1.1"/>
<path d="M409.91,330.246 L412.51000000000005,332.846 L409.91,335.446 L407.31,332.846 Z" fill="#fff" stroke="#111" stroke-width="1.1"/>
<path d="M440.85,323.092 L443.45000000000005,325.692 L440.85,328.29200000000003 L438.25,325.692 Z" fill="#fff" stroke="#111" stroke-width="1.1"/>
<path d="M471.79,317.98199999999997 L474.39000000000004,320.582 L471.79,323.182 L469.19,320.582 Z" fill="#fff" stroke="#111" stroke-width="1.1"/>
<path d="M502.73,298.56399999999996 L505.33000000000004,301.164 L502.73,303.764 L500.13,301.164 Z" fill="#fff" stroke="#111" stroke-width="1.1"/>
<circle cx="409.91" cy="329.78" r="2.3400000000000003" fill="#111"/>
<circle cx="440.85" cy="327.736" r="2.3400000000000003" fill="#111"/>
<circle cx="471.79" cy="329.78" r="2.3400000000000003" fill="#111"/>
<path d="M376.37,335.86699999999996 L381.57000000000005,341.067 M381.57000000000005,335.86699999999996 L376.37,341.067 M378.97,335.86699999999996 L378.97,341.067" stroke="#111" stroke-width="1"/>
<path d="M407.31,325.13599999999997 L412.51000000000005,330.336 M412.51000000000005,325.13599999999997 L407.31,330.336 M409.91,325.13599999999997 L409.91,330.336" stroke="#111" stroke-width="1"/>
<path d="M438.25,322.07 L443.45000000000005,327.27000000000004 M443.45000000000005,322.07 L438.25,327.27000000000004 M440.85,322.07 L440.85,327.27000000000004" stroke="#111" stroke-width="1"/>
<path d="M469.19,330.246 L474.39000000000004,335.446 M474.39000000000004,330.246 L469.19,335.446 M471.79,330.246 L471.79,335.446" stroke="#111" stroke-width="1"/>
<path d="M500.13,327.17999999999995 L505.33000000000004,332.38 M505.33000000000004,327.17999999999995 L500.13,332.38 M502.73,327.17999999999995 L502.73,332.38" stroke="#111" stroke-width="1"/>
<path d="M376.37,335.86699999999996 L381.57000000000005,341.067 M381.57000000000005,335.86699999999996 L376.37,341.067" stroke="#111" stroke-width="1"/>
<path d="M407.31,327.17999999999995 L412.51000000000005,332.38 M412.51000000000005,327.17999999999995 L407.31,332.38" stroke="#111" stroke-width="1"/>
<path d="M438.25,325.13599999999997 L443.45000000000005,330.336 M443.45000000000005,325.13599999999997 L438.25,330.336" stroke="#111" stroke-width="1"/>
<path d="M469.19,327.17999999999995 L474.39000000000004,332.38 M474.39000000000004,327.17999999999995 L469.19,332.38" stroke="#111" stroke-width="1"/>
<path d="M500.13,327.17999999999995 L505.33000000000004,332.38 M505.33000000000004,327.17999999999995 L500.13,332.38" stroke="#111" stroke-width="1"/>
</svg>
</body></html>
